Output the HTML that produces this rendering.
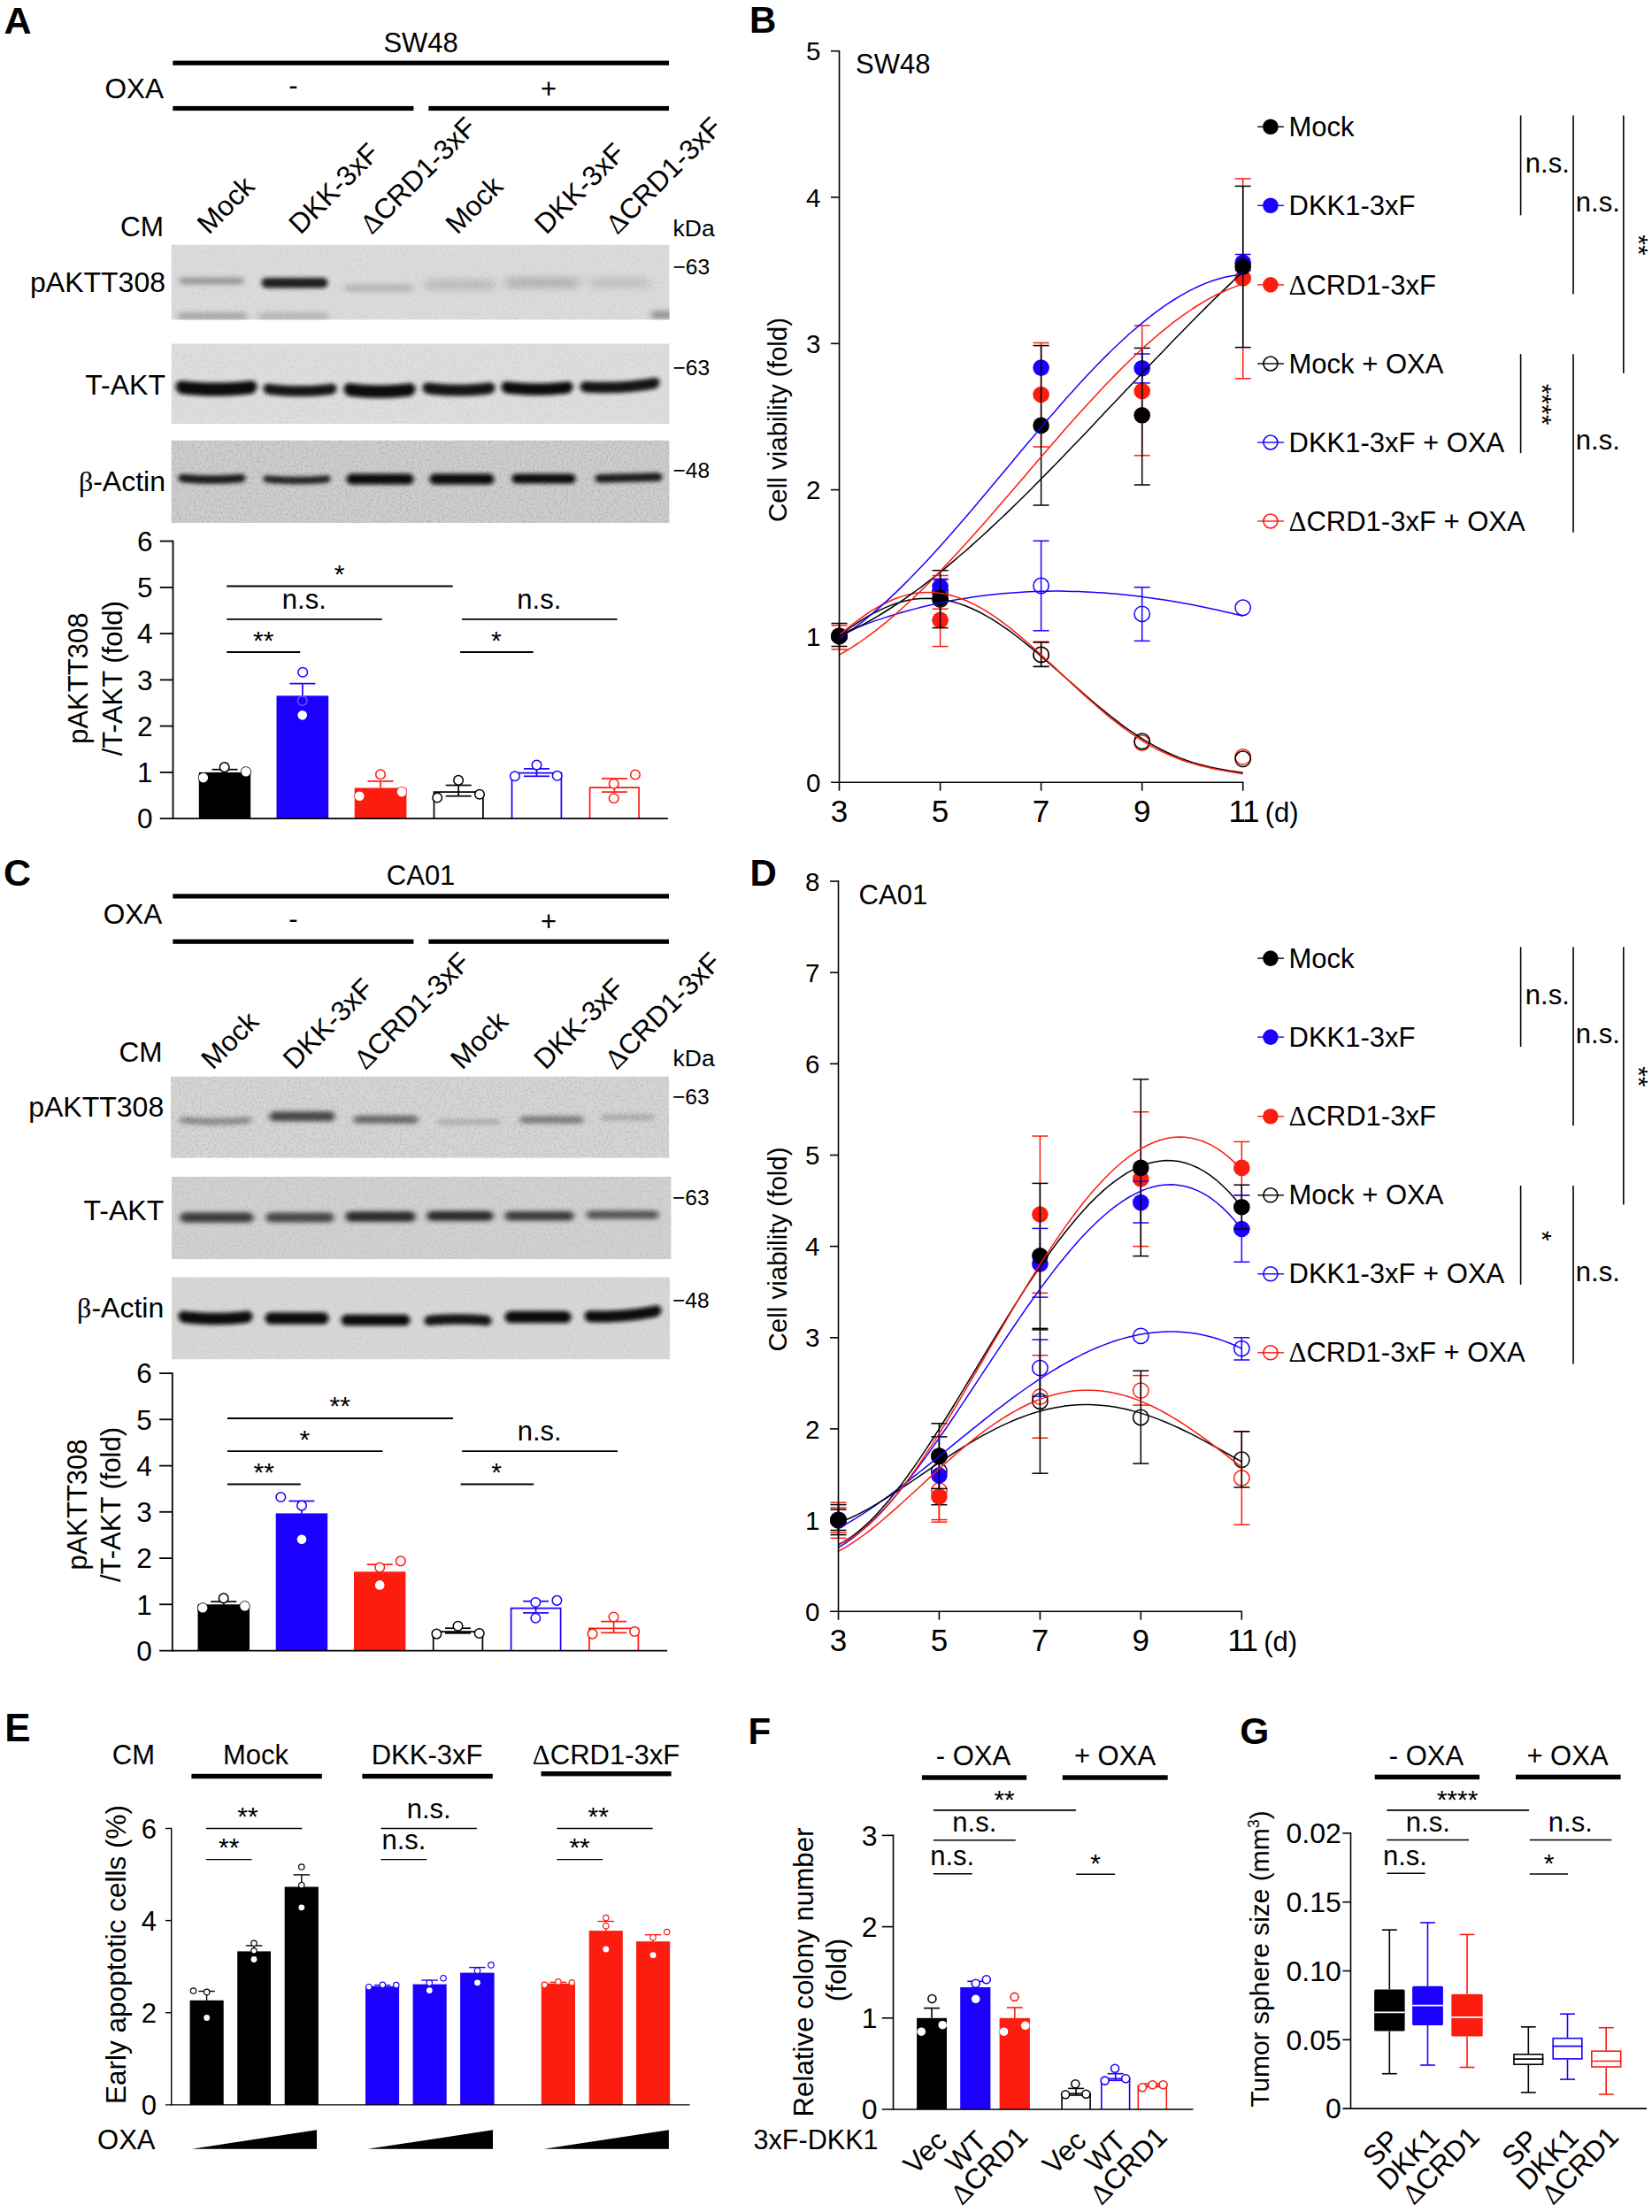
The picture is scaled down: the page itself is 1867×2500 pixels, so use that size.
<!DOCTYPE html>
<html lang="en"><head><meta charset="utf-8"><title>Figure</title>
<style>
html,body{margin:0;padding:0;background:#fff}
body{width:1867px;height:2500px;overflow:hidden}
svg{display:block}
text{font-family:"Liberation Sans",Arial,Helvetica,sans-serif;fill:#000}
.sy{font-family:"Liberation Serif","DejaVu Serif",serif}
</style></head><body>
<svg width="1867" height="2500" viewBox="0 0 1867 2500">
<defs>
<filter id="b1" x="-20%" y="-100%" width="140%" height="300%"><feGaussianBlur stdDeviation="2.8 1.9"/></filter>
<filter id="b2" x="-20%" y="-100%" width="140%" height="300%"><feGaussianBlur stdDeviation="3.2 2.4"/></filter>
<filter id="b3" x="-30%" y="-150%" width="160%" height="400%"><feGaussianBlur stdDeviation="6 4"/></filter>
<filter id="nz" x="0" y="0" width="100%" height="100%"><feTurbulence type="fractalNoise" baseFrequency="0.42" numOctaves="2" seed="3" result="n"/><feColorMatrix type="matrix" values="0 0 0 0 0  0 0 0 0 0  0 0 0 0 0  0.9 0 0 0 -0.38"/></filter>
</defs>
<rect width="1867" height="2500" fill="#fff"/>
<text x="4.6" y="38.1" font-size="43" font-weight="bold">A</text>
<text x="475.6" y="59" font-size="31" text-anchor="middle">SW48</text>
<rect x="195.3" y="68.6" width="560.7" height="5.2" fill="#000"/>
<text x="185" y="110.6" font-size="31.5" text-anchor="end">OXA</text>
<text x="331.5" y="107.1" font-size="31" text-anchor="middle">-</text>
<text x="620" y="110.9" font-size="31" text-anchor="middle">+</text>
<rect x="195.3" y="119.9" width="272.1" height="5.2" fill="#000"/>
<rect x="484.4" y="119.9" width="271.6" height="5.2" fill="#000"/>
<text x="185" y="267" font-size="31.5" text-anchor="end">CM</text>
<text transform="translate(236 266) rotate(-45)" font-size="31.7">Mock</text>
<text transform="translate(339.5 266) rotate(-45)" font-size="31.7">DKK-3xF</text>
<text transform="translate(420 266) rotate(-45)" font-size="31.7"><tspan class="sy">Δ</tspan>CRD1-3xF</text>
<text transform="translate(516.7 266) rotate(-45)" font-size="31.7">Mock</text>
<text transform="translate(617.3 266) rotate(-45)" font-size="31.7">DKK-3xF</text>
<text transform="translate(697.5 266) rotate(-45)" font-size="31.7"><tspan class="sy">Δ</tspan>CRD1-3xF</text>
<text x="760.5" y="267" font-size="26.5">kDa</text>
<text x="187" y="329.8" font-size="32" text-anchor="end">pAKTT308</text>
<text x="187" y="446" font-size="32" text-anchor="end">T-AKT</text>
<text x="187" y="555.4" font-size="32" text-anchor="end"><tspan class="sy">β</tspan>-Actin</text>
<text x="760.5" y="310.3" font-size="24.5">−63</text>
<text x="760.5" y="423.9" font-size="24.5">−63</text>
<text x="760.5" y="540.1" font-size="24.5">−48</text>
<clipPath id="ca1"><rect x="193.5" y="276.4" width="563.1" height="85.2"/></clipPath>
<g clip-path="url(#ca1)">
<rect x="193.5" y="276.4" width="563.1" height="85.2" fill="#dcdcdc"/>
<path d="M202 317.6L204.6 313.8L207.3 313.6L209.9 313.6L212.6 313.6L215.2 313.6L217.9 313.6L220.5 313.6L223.1 313.6L225.8 313.6L228.4 313.6L231.1 313.6L233.7 313.6L236.4 313.6L239 313.6L241.6 313.6L244.3 313.6L246.9 313.6L249.6 313.6L252.2 313.6L254.9 313.6L257.5 313.6L260.1 313.6L262.8 313.6L265.4 313.6L268.1 313.6L270.7 313.6L273.4 313.8L276 317.6L276 317.6L273.4 321.4L270.7 321.6L268.1 321.6L265.4 321.6L262.8 321.6L260.1 321.6L257.5 321.6L254.9 321.6L252.2 321.6L249.6 321.6L246.9 321.6L244.3 321.6L241.6 321.6L239 321.6L236.4 321.6L233.7 321.6L231.1 321.6L228.4 321.6L225.8 321.6L223.1 321.6L220.5 321.6L217.9 321.6L215.2 321.6L212.6 321.6L209.9 321.6L207.3 321.6L204.6 321.4L202 317.6Z" fill="#8c8c8c" filter="url(#b2)" opacity="0.8"/>
<path d="M295 319.7L297.7 314.8L300.4 314L303.1 313.9L305.9 313.9L308.6 313.9L311.3 313.9L314 313.9L316.7 313.9L319.4 313.9L322.1 313.9L324.9 313.9L327.6 313.9L330.3 313.9L333 313.9L335.7 313.9L338.4 313.9L341.1 313.9L343.9 313.9L346.6 313.9L349.3 313.9L352 313.9L354.7 313.9L357.4 313.9L360.1 313.9L362.9 313.9L365.6 314L368.3 314.8L371 319.7L371 319.7L368.3 324.6L365.6 325.4L362.9 325.4L360.1 325.4L357.4 325.4L354.7 325.4L352 325.4L349.3 325.4L346.6 325.4L343.9 325.4L341.1 325.4L338.4 325.4L335.7 325.4L333 325.4L330.3 325.4L327.6 325.4L324.9 325.4L322.1 325.4L319.4 325.4L316.7 325.4L314 325.4L311.3 325.4L308.6 325.4L305.9 325.4L303.1 325.4L300.4 325.4L297.7 324.6L295 319.7Z" fill="#202020" filter="url(#b1)"/>
<path d="M388 325.5L390.8 321.3L393.6 321L396.5 321L399.3 321L402.1 321L404.9 321L407.8 321L410.6 321L413.4 321L416.2 321L419 321L421.9 321L424.7 321L427.5 321L430.3 321L433.1 321L436 321L438.8 321L441.6 321L444.4 321L447.2 321L450.1 321L452.9 321L455.7 321L458.5 321L461.4 321L464.2 321.3L467 325.5L467 325.5L464.2 329.7L461.4 330L458.5 330L455.7 330L452.9 330L450.1 330L447.2 330L444.4 330L441.6 330L438.8 330L436 330L433.1 330L430.3 330L427.5 330L424.7 330L421.9 330L419 330L416.2 330L413.4 330L410.6 330L407.8 330L404.9 330L402.1 330L399.3 330L396.5 330L393.6 330L390.8 329.7L388 325.5Z" fill="#b4b4b4" filter="url(#b2)" opacity="0.8"/>
<path d="M478 322L480.9 317.1L483.9 316.5L486.8 316.5L489.7 316.5L492.6 316.5L495.6 316.5L498.5 316.5L501.4 316.5L504.4 316.5L507.3 316.5L510.2 316.5L513.1 316.5L516.1 316.5L519 316.5L521.9 316.5L524.9 316.5L527.8 316.5L530.7 316.5L533.6 316.5L536.6 316.5L539.5 316.5L542.4 316.5L545.4 316.5L548.3 316.5L551.2 316.5L554.1 316.5L557.1 317.1L560 322L560 322L557.1 326.9L554.1 327.5L551.2 327.5L548.3 327.5L545.4 327.5L542.4 327.5L539.5 327.5L536.6 327.5L533.6 327.5L530.7 327.5L527.8 327.5L524.9 327.5L521.9 327.5L519 327.5L516.1 327.5L513.1 327.5L510.2 327.5L507.3 327.5L504.4 327.5L501.4 327.5L498.5 327.5L495.6 327.5L492.6 327.5L489.7 327.5L486.8 327.5L483.9 327.5L480.9 326.9L478 322Z" fill="#b8b8b8" filter="url(#b3)" opacity="0.9"/>
<path d="M570 319.5L573 314.6L576.1 314L579.1 314L582.1 314L585.2 314L588.2 314L591.2 314L594.3 314L597.3 314L600.4 314L603.4 314L606.4 314L609.5 314L612.5 314L615.5 314L618.6 314L621.6 314L624.6 314L627.7 314L630.7 314L633.8 314L636.8 314L639.8 314L642.9 314L645.9 314L648.9 314L652 314.6L655 319.5L655 319.5L652 324.4L648.9 325L645.9 325L642.9 325L639.8 325L636.8 325L633.8 325L630.7 325L627.7 325L624.6 325L621.6 325L618.6 325L615.5 325L612.5 325L609.5 325L606.4 325L603.4 325L600.4 325L597.3 325L594.3 325L591.2 325L588.2 325L585.2 325L582.1 325L579.1 325L576.1 325L573 324.4L570 319.5Z" fill="#acacac" filter="url(#b3)" opacity="0.9"/>
<path d="M665 319.5L667.5 315.2L670 314.5L672.5 314.5L675 314.5L677.5 314.5L680 314.5L682.5 314.5L685 314.5L687.5 314.5L690 314.5L692.5 314.5L695 314.5L697.5 314.5L700 314.5L702.5 314.5L705 314.5L707.5 314.5L710 314.5L712.5 314.5L715 314.5L717.5 314.5L720 314.5L722.5 314.5L725 314.5L727.5 314.5L730 314.5L732.5 315.2L735 319.5L735 319.5L732.5 323.8L730 324.5L727.5 324.5L725 324.5L722.5 324.5L720 324.5L717.5 324.5L715 324.5L712.5 324.5L710 324.5L707.5 324.5L705 324.5L702.5 324.5L700 324.5L697.5 324.5L695 324.5L692.5 324.5L690 324.5L687.5 324.5L685 324.5L682.5 324.5L680 324.5L677.5 324.5L675 324.5L672.5 324.5L670 324.5L667.5 323.8L665 319.5Z" fill="#b8b8b8" filter="url(#b3)" opacity="0.8"/>
<path d="M200 357.5L202.9 353.3L205.7 353L208.6 353L211.4 353L214.3 353L217.1 353L220 353L222.9 353L225.7 353L228.6 353L231.4 353L234.3 353L237.1 353L240 353L242.9 353L245.7 353L248.6 353L251.4 353L254.3 353L257.1 353L260 353L262.9 353L265.7 353L268.6 353L271.4 353L274.3 353L277.1 353.3L280 357.5L280 357.5L277.1 361.7L274.3 362L271.4 362L268.6 362L265.7 362L262.9 362L260 362L257.1 362L254.3 362L251.4 362L248.6 362L245.7 362L242.9 362L240 362L237.1 362L234.3 362L231.4 362L228.6 362L225.7 362L222.9 362L220 362L217.1 362L214.3 362L211.4 362L208.6 362L205.7 362L202.9 361.7L200 357.5Z" fill="#a0a0a0" filter="url(#b2)" opacity="0.8"/>
<path d="M292 357.5L294.9 353.3L297.7 353L300.6 353L303.4 353L306.3 353L309.1 353L312 353L314.9 353L317.7 353L320.6 353L323.4 353L326.3 353L329.1 353L332 353L334.9 353L337.7 353L340.6 353L343.4 353L346.3 353L349.1 353L352 353L354.9 353L357.7 353L360.6 353L363.4 353L366.3 353L369.1 353.3L372 357.5L372 357.5L369.1 361.7L366.3 362L363.4 362L360.6 362L357.7 362L354.9 362L352 362L349.1 362L346.3 362L343.4 362L340.6 362L337.7 362L334.9 362L332 362L329.1 362L326.3 362L323.4 362L320.6 362L317.7 362L314.9 362L312 362L309.1 362L306.3 362L303.4 362L300.6 362L297.7 362L294.9 361.7L292 357.5Z" fill="#b0b0b0" filter="url(#b2)" opacity="0.8"/>
<path d="M735 356L736.1 352.9L737.1 351.9L738.2 351.3L739.3 351.1L740.4 351L741.4 351L742.5 351L743.6 351L744.6 351L745.7 351L746.8 351L747.9 351L748.9 351L750 351L751.1 351L752.1 351L753.2 351L754.3 351L755.4 351L756.4 351L757.5 351L758.6 351L759.6 351L760.7 351.1L761.8 351.3L762.9 351.9L763.9 352.9L765 356L765 356L763.9 359.1L762.9 360.1L761.8 360.7L760.7 360.9L759.6 361L758.6 361L757.5 361L756.4 361L755.4 361L754.3 361L753.2 361L752.1 361L751.1 361L750 361L748.9 361L747.9 361L746.8 361L745.7 361L744.6 361L743.6 361L742.5 361L741.4 361L740.4 361L739.3 360.9L738.2 360.7L737.1 360.1L736.1 359.1L735 356Z" fill="#909090" filter="url(#b2)" opacity="0.8"/>
<rect x="193.5" y="276.4" width="563.1" height="85.2" filter="url(#nz)" opacity="0.15"/>
</g>
<clipPath id="ca2"><rect x="193.5" y="388.3" width="563.1" height="91"/></clipPath>
<g clip-path="url(#ca2)">
<rect x="193.5" y="388.3" width="563.1" height="91" fill="#dedede"/>
<path d="M198 436.9L201.3 431.1L204.6 430.3L208 430.6L211.3 431L214.6 431.3L217.9 431.6L221.2 431.8L224.6 432L227.9 432.2L231.2 432.3L234.5 432.5L237.9 432.5L241.2 432.6L244.5 432.6L247.8 432.6L251.1 432.5L254.5 432.5L257.8 432.3L261.1 432.2L264.4 432L267.8 431.8L271.1 431.6L274.4 431.3L277.7 431L281 430.6L284.4 430.3L287.7 431.1L291 436.9L291 436.9L287.7 443.6L284.4 445.2L281 445.6L277.7 446L274.4 446.3L271.1 446.6L267.8 446.8L264.4 447L261.1 447.2L257.8 447.3L254.5 447.5L251.1 447.5L247.8 447.6L244.5 447.6L241.2 447.6L237.9 447.5L234.5 447.5L231.2 447.3L227.9 447.2L224.6 447L221.2 446.8L217.9 446.6L214.6 446.3L211.3 446L208 445.6L204.6 445.2L201.3 443.6L198 436.9Z" fill="#0c0c0c" filter="url(#b1)"/>
<path d="M297 438.9L300 434.1L303 433.7L306 434.1L309 434.5L312 434.8L315 435.1L318 435.3L321 435.5L324 435.7L327 435.8L330 436L333 436L336 436.1L339 436.1L342 436.1L345 436L348 436L351 435.8L354 435.7L357 435.5L360 435.3L363 435.1L366 434.8L369 434.5L372 434.1L375 433.7L378 434.1L381 438.9L381 438.9L378 444.5L375 445.7L372 446.1L369 446.5L366 446.8L363 447.1L360 447.3L357 447.5L354 447.7L351 447.8L348 448L345 448L342 448.1L339 448.1L336 448.1L333 448L330 448L327 447.8L324 447.7L321 447.5L318 447.3L315 447.1L312 446.8L309 446.5L306 446.1L303 445.7L300 444.5L297 438.9Z" fill="#181818" filter="url(#b1)"/>
<path d="M388 439.4L390.9 434L393.9 433.1L396.8 433.4L399.7 433.7L402.6 434L405.6 434.3L408.5 434.6L411.4 434.8L414.4 434.9L417.3 435.1L420.2 435.2L423.1 435.3L426.1 435.3L429 435.4L431.9 435.3L434.9 435.3L437.8 435.2L440.7 435.1L443.6 434.9L446.6 434.8L449.5 434.6L452.4 434.3L455.4 434L458.3 433.7L461.2 433.4L464.1 433.1L467.1 434L470 439.4L470 439.4L467.1 445.7L464.1 447.4L461.2 447.9L458.3 448.2L455.4 448.5L452.4 448.8L449.5 449.1L446.6 449.3L443.6 449.4L440.7 449.6L437.8 449.7L434.9 449.8L431.9 449.8L429 449.9L426.1 449.8L423.1 449.8L420.2 449.7L417.3 449.6L414.4 449.4L411.4 449.3L408.5 449.1L405.6 448.8L402.6 448.5L399.7 448.2L396.8 447.9L393.9 447.4L390.9 445.7L388 439.4Z" fill="#0c0c0c" filter="url(#b1)"/>
<path d="M477 437.9L480 432.9L482.9 432.3L485.9 432.6L488.9 433L491.8 433.3L494.8 433.6L497.8 433.8L500.7 434L503.7 434.2L506.6 434.3L509.6 434.5L512.6 434.5L515.5 434.6L518.5 434.6L521.5 434.6L524.4 434.5L527.4 434.5L530.4 434.3L533.3 434.2L536.3 434L539.2 433.8L542.2 433.6L545.2 433.3L548.1 433L551.1 432.6L554.1 432.3L557 432.9L560 437.9L560 437.9L557 443.8L554.1 445.2L551.1 445.6L548.1 446L545.2 446.3L542.2 446.6L539.2 446.8L536.3 447L533.3 447.2L530.4 447.3L527.4 447.5L524.4 447.5L521.5 447.6L518.5 447.6L515.5 447.6L512.6 447.5L509.6 447.5L506.6 447.3L503.7 447.2L500.7 447L497.8 446.8L494.8 446.6L491.8 446.3L488.9 446L485.9 445.6L482.9 445.2L480 443.8L477 437.9Z" fill="#141414" filter="url(#b1)"/>
<path d="M566 436.9L568.9 431.8L571.9 431.1L574.8 431.4L577.7 431.7L580.6 432L583.6 432.3L586.5 432.6L589.4 432.8L592.4 432.9L595.3 433.1L598.2 433.2L601.1 433.3L604.1 433.3L607 433.4L609.9 433.3L612.9 433.3L615.8 433.2L618.7 433.1L621.6 432.9L624.6 432.8L627.5 432.6L630.4 432.3L633.4 432L636.3 431.7L639.2 431.4L642.1 431.1L645.1 431.8L648 436.9L648 436.9L645.1 442.9L642.1 444.4L639.2 444.9L636.3 445.2L633.4 445.5L630.4 445.8L627.5 446.1L624.6 446.3L621.6 446.4L618.7 446.6L615.8 446.7L612.9 446.8L609.9 446.8L607 446.9L604.1 446.8L601.1 446.8L598.2 446.7L595.3 446.6L592.4 446.4L589.4 446.3L586.5 446.1L583.6 445.8L580.6 445.5L577.7 445.2L574.8 444.9L571.9 444.4L568.9 442.9L566 436.9Z" fill="#101010" filter="url(#b1)"/>
<path d="M655 436.9L658.2 431.7L661.5 431.1L664.8 431.3L668 431.5L671.2 431.6L674.5 431.7L677.8 431.8L681 431.8L684.2 431.8L687.5 431.8L690.8 431.7L694 431.6L697.2 431.5L700.5 431.4L703.8 431.2L707 430.9L710.2 430.7L713.5 430.4L716.8 430L720 429.7L723.2 429.3L726.5 428.9L729.8 428.4L733 427.9L736.2 427.4L739.5 426.9L742.8 427L746 431.9L746 431.9L742.8 438L739.5 439.4L736.2 439.9L733 440.4L729.8 440.9L726.5 441.4L723.2 441.8L720 442.2L716.8 442.5L713.5 442.9L710.2 443.2L707 443.4L703.8 443.7L700.5 443.9L697.2 444L694 444.1L690.8 444.2L687.5 444.3L684.2 444.3L681 444.3L677.8 444.3L674.5 444.2L671.2 444.1L668 444L664.8 443.8L661.5 443.6L658.2 442.6L655 436.9Z" fill="#141414" filter="url(#b1)"/>
<rect x="193.5" y="388.3" width="563.1" height="91" filter="url(#nz)" opacity="0.15"/>
</g>
<clipPath id="ca3"><rect x="193.5" y="497.6" width="563.1" height="93.4"/></clipPath>
<g clip-path="url(#ca3)">
<rect x="193.5" y="497.6" width="563.1" height="93.4" fill="#cecece"/>
<path d="M201 540L203.8 536L206.5 535.8L209.2 536L212 536.2L214.8 536.4L217.5 536.6L220.2 536.8L223 536.9L225.8 537L228.5 537.1L231.2 537.2L234 537.2L236.8 537.2L239.5 537.2L242.2 537.2L245 537.2L247.8 537.2L250.5 537.1L253.2 537L256 536.9L258.8 536.8L261.5 536.6L264.2 536.4L267 536.2L269.8 536L272.5 535.8L275.2 536L278 540L278 540L275.2 544.6L272.5 545.3L269.8 545.5L267 545.7L264.2 545.9L261.5 546.1L258.8 546.2L256 546.4L253.2 546.5L250.5 546.6L247.8 546.7L245 546.7L242.2 546.7L239.5 546.8L236.8 546.7L234 546.7L231.2 546.7L228.5 546.6L225.8 546.5L223 546.4L220.2 546.2L217.5 546.1L214.8 545.9L212 545.7L209.2 545.5L206.5 545.3L203.8 544.6L201 540Z" fill="#1c1c1c" filter="url(#b1)"/>
<path d="M297 541L299.8 537.3L302.5 537.3L305.2 537.5L308 537.7L310.8 537.9L313.5 538.1L316.2 538.2L319 538.4L321.8 538.5L324.5 538.6L327.2 538.7L330 538.7L332.8 538.7L335.5 538.8L338.2 538.7L341 538.7L343.8 538.7L346.5 538.6L349.2 538.5L352 538.4L354.8 538.2L357.5 538.1L360.2 537.9L363 537.7L365.8 537.5L368.5 537.3L371.2 537.3L374 541L374 541L371.2 545.3L368.5 545.8L365.8 546L363 546.2L360.2 546.4L357.5 546.6L354.8 546.8L352 546.9L349.2 547L346.5 547.1L343.8 547.2L341 547.2L338.2 547.2L335.5 547.2L332.8 547.2L330 547.2L327.2 547.2L324.5 547.1L321.8 547L319 546.9L316.2 546.8L313.5 546.6L310.8 546.4L308 546.2L305.2 546L302.5 545.8L299.8 545.3L297 541Z" fill="#282828" filter="url(#b1)"/>
<path d="M391 541.6L393.8 536.6L396.5 535.6L399.2 535.6L402 535.6L404.8 535.6L407.5 535.6L410.2 535.6L413 535.6L415.8 535.6L418.5 535.6L421.2 535.6L424 535.6L426.8 535.6L429.5 535.6L432.2 535.6L435 535.6L437.8 535.6L440.5 535.6L443.2 535.6L446 535.6L448.8 535.6L451.5 535.6L454.2 535.6L457 535.6L459.8 535.6L462.5 535.6L465.2 536.6L468 541.6L468 541.6L465.2 546.6L462.5 547.6L459.8 547.6L457 547.6L454.2 547.6L451.5 547.6L448.8 547.6L446 547.6L443.2 547.6L440.5 547.6L437.8 547.6L435 547.6L432.2 547.6L429.5 547.6L426.8 547.6L424 547.6L421.2 547.6L418.5 547.6L415.8 547.6L413 547.6L410.2 547.6L407.5 547.6L404.8 547.6L402 547.6L399.2 547.6L396.5 547.6L393.8 546.6L391 541.6Z" fill="#0c0c0c" filter="url(#b1)"/>
<path d="M485 541.6L487.6 536.6L490.3 535.6L492.9 535.6L495.6 535.6L498.2 535.6L500.9 535.6L503.5 535.6L506.1 535.6L508.8 535.6L511.4 535.6L514.1 535.6L516.7 535.6L519.4 535.6L522 535.6L524.6 535.6L527.3 535.6L529.9 535.6L532.6 535.6L535.2 535.6L537.9 535.6L540.5 535.6L543.1 535.6L545.8 535.6L548.4 535.6L551.1 535.6L553.7 535.6L556.4 536.6L559 541.6L559 541.6L556.4 546.6L553.7 547.6L551.1 547.6L548.4 547.6L545.8 547.6L543.1 547.6L540.5 547.6L537.9 547.6L535.2 547.6L532.6 547.6L529.9 547.6L527.3 547.6L524.6 547.6L522 547.6L519.4 547.6L516.7 547.6L514.1 547.6L511.4 547.6L508.8 547.6L506.1 547.6L503.5 547.6L500.9 547.6L498.2 547.6L495.6 547.6L492.9 547.6L490.3 547.6L487.6 546.6L485 541.6Z" fill="#0c0c0c" filter="url(#b1)"/>
<path d="M578 541L580.6 536.3L583.2 535.5L585.8 535.5L588.4 535.5L591 535.5L593.6 535.5L596.2 535.5L598.9 535.5L601.5 535.5L604.1 535.5L606.7 535.5L609.3 535.5L611.9 535.5L614.5 535.5L617.1 535.5L619.7 535.5L622.3 535.5L624.9 535.5L627.5 535.5L630.1 535.5L632.8 535.5L635.4 535.5L638 535.5L640.6 535.5L643.2 535.5L645.8 535.5L648.4 536.3L651 541L651 541L648.4 545.7L645.8 546.5L643.2 546.5L640.6 546.5L638 546.5L635.4 546.5L632.8 546.5L630.1 546.5L627.5 546.5L624.9 546.5L622.3 546.5L619.7 546.5L617.1 546.5L614.5 546.5L611.9 546.5L609.3 546.5L606.7 546.5L604.1 546.5L601.5 546.5L598.9 546.5L596.2 546.5L593.6 546.5L591 546.5L588.4 546.5L585.8 546.5L583.2 546.5L580.6 545.7L578 541Z" fill="#0e0e0e" filter="url(#b1)"/>
<path d="M672 541L674.8 536.6L677.5 536.1L680.2 536L683 536L685.8 535.9L688.5 535.8L691.2 535.8L694 535.7L696.8 535.6L699.5 535.5L702.2 535.5L705 535.4L707.8 535.3L710.5 535.2L713.2 535.2L716 535.1L718.8 535L721.5 535L724.2 534.9L727 534.8L729.8 534.8L732.5 534.7L735.2 534.6L738 534.5L740.8 534.5L743.5 534.4L746.2 534.8L749 539L749 539L746.2 543.4L743.5 543.9L740.8 544L738 544L735.2 544.1L732.5 544.2L729.8 544.2L727 544.3L724.2 544.4L721.5 544.5L718.8 544.5L716 544.6L713.2 544.7L710.5 544.8L707.8 544.8L705 544.9L702.2 545L699.5 545L696.8 545.1L694 545.2L691.2 545.2L688.5 545.3L685.8 545.4L683 545.5L680.2 545.5L677.5 545.6L674.8 545.2L672 541Z" fill="#1c1c1c" filter="url(#b1)"/>
<rect x="193.5" y="497.6" width="563.1" height="93.4" filter="url(#nz)" opacity="0.32"/>
</g>
<rect x="224.8" y="872.9" width="58.4" height="52.2" fill="#000"/>
<line x1="254" y1="869.7" x2="254" y2="872.9" stroke="#000" stroke-width="1.7"/>
<line x1="239.5" y1="869.7" x2="268.5" y2="869.7" stroke="#000" stroke-width="1.7"/>
<circle cx="253.7" cy="867.1" r="5.3" fill="#fff" stroke="#000" stroke-width="1.5"/>
<circle cx="229.8" cy="879.1" r="5.3" fill="#fff" stroke="#000" stroke-width="1.5"/>
<circle cx="229.8" cy="879.1" r="5.3" fill="#fff"/>
<circle cx="277.9" cy="872.2" r="5.3" fill="#fff" stroke="#000" stroke-width="1.5"/>
<circle cx="277.9" cy="872.2" r="5.3" fill="#fff"/>
<rect x="312.5" y="786.3" width="58.7" height="138.8" fill="#1b00ff"/>
<line x1="341.9" y1="772.6" x2="341.9" y2="786.3" stroke="#1b00ff" stroke-width="1.7"/>
<line x1="327.4" y1="772.6" x2="356.4" y2="772.6" stroke="#1b00ff" stroke-width="1.7"/>
<circle cx="342.2" cy="759.8" r="5.3" fill="#fff" stroke="#1b00ff" stroke-width="1.5"/>
<circle cx="341.7" cy="792.1" r="5.3" fill="none" stroke="#6a5cff" stroke-width="1.4"/>
<circle cx="341.7" cy="808.2" r="5.3" fill="#fff" stroke="#1b00ff" stroke-width="1.5"/>
<circle cx="341.7" cy="808.2" r="5.3" fill="#fff"/>
<rect x="400.7" y="890.5" width="58.7" height="34.6" fill="#fc1c10"/>
<line x1="430" y1="882.9" x2="430" y2="890.5" stroke="#fc1c10" stroke-width="1.7"/>
<line x1="415.5" y1="882.9" x2="444.5" y2="882.9" stroke="#fc1c10" stroke-width="1.7"/>
<circle cx="430" cy="875.3" r="5.3" fill="#fff" stroke="#fc1c10" stroke-width="1.5"/>
<circle cx="406.3" cy="899.7" r="5.3" fill="#fff" stroke="#fc1c10" stroke-width="1.5"/>
<circle cx="406.3" cy="899.7" r="5.3" fill="#fff"/>
<circle cx="454.1" cy="895.1" r="5.3" fill="#fff" stroke="#fc1c10" stroke-width="1.5"/>
<circle cx="454.1" cy="895.1" r="5.3" fill="#fff"/>
<path d="M490.5 925.1V895.2H545.9V925.1" fill="none" stroke="#000" stroke-width="1.7"/>
<line x1="518.2" y1="887.5" x2="518.2" y2="899.7" stroke="#000" stroke-width="1.7"/>
<line x1="503.7" y1="887.5" x2="532.7" y2="887.5" stroke="#000" stroke-width="1.7"/>
<line x1="503.7" y1="899.7" x2="532.7" y2="899.7" stroke="#000" stroke-width="1.7"/>
<circle cx="518.1" cy="881.9" r="5.3" fill="#fff" stroke="#000" stroke-width="1.5"/>
<circle cx="494.2" cy="901.5" r="5.3" fill="#fff" stroke="#000" stroke-width="1.5"/>
<circle cx="542" cy="897.7" r="5.3" fill="#fff" stroke="#000" stroke-width="1.5"/>
<path d="M578.5 925.1V873.7H634.4V925.1" fill="none" stroke="#1b00ff" stroke-width="1.7"/>
<line x1="606.5" y1="868.9" x2="606.5" y2="877.3" stroke="#1b00ff" stroke-width="1.7"/>
<line x1="592" y1="868.9" x2="621" y2="868.9" stroke="#1b00ff" stroke-width="1.7"/>
<line x1="592" y1="877.3" x2="621" y2="877.3" stroke="#1b00ff" stroke-width="1.7"/>
<circle cx="606.5" cy="864.6" r="5.3" fill="#fff" stroke="#1b00ff" stroke-width="1.5"/>
<circle cx="581.9" cy="877.3" r="5.3" fill="#fff" stroke="#1b00ff" stroke-width="1.5"/>
<circle cx="629.7" cy="876.8" r="5.3" fill="#fff" stroke="#1b00ff" stroke-width="1.5"/>
<path d="M666.6 925.1V890.2H722.1V925.1" fill="none" stroke="#fc1c10" stroke-width="1.7"/>
<line x1="694.4" y1="879.9" x2="694.4" y2="895.1" stroke="#fc1c10" stroke-width="1.7"/>
<line x1="679.9" y1="879.9" x2="708.9" y2="879.9" stroke="#fc1c10" stroke-width="1.7"/>
<line x1="679.9" y1="895.1" x2="708.9" y2="895.1" stroke="#fc1c10" stroke-width="1.7"/>
<circle cx="717.9" cy="875.5" r="5.3" fill="#fff" stroke="#fc1c10" stroke-width="1.5"/>
<circle cx="693.7" cy="885.7" r="5.3" fill="#fff" stroke="#fc1c10" stroke-width="1.5"/>
<circle cx="693.7" cy="902.2" r="5.3" fill="#fff" stroke="#fc1c10" stroke-width="1.5"/>
<line x1="195.5" y1="610.7" x2="195.5" y2="926" stroke="#000" stroke-width="1.8"/>
<line x1="180.8" y1="925.1" x2="754.8" y2="925.1" stroke="#000" stroke-width="1.8"/>
<text x="172.5" y="936.3" font-size="31.5" text-anchor="end">0</text>
<line x1="180.8" y1="872.9" x2="195.5" y2="872.9" stroke="#000" stroke-width="1.8"/>
<text x="172.5" y="884.1" font-size="31.5" text-anchor="end">1</text>
<line x1="180.8" y1="820.6" x2="195.5" y2="820.6" stroke="#000" stroke-width="1.8"/>
<text x="172.5" y="831.8" font-size="31.5" text-anchor="end">2</text>
<line x1="180.8" y1="768.4" x2="195.5" y2="768.4" stroke="#000" stroke-width="1.8"/>
<text x="172.5" y="779.6" font-size="31.5" text-anchor="end">3</text>
<line x1="180.8" y1="716.1" x2="195.5" y2="716.1" stroke="#000" stroke-width="1.8"/>
<text x="172.5" y="727.3" font-size="31.5" text-anchor="end">4</text>
<line x1="180.8" y1="663.9" x2="195.5" y2="663.9" stroke="#000" stroke-width="1.8"/>
<text x="172.5" y="675.1" font-size="31.5" text-anchor="end">5</text>
<line x1="180.8" y1="611.6" x2="195.5" y2="611.6" stroke="#000" stroke-width="1.8"/>
<text x="172.5" y="622.8" font-size="31.5" text-anchor="end">6</text>
<line x1="256.3" y1="662.5" x2="511.7" y2="662.5" stroke="#000" stroke-width="1.8"/>
<text x="383.5" y="659.3" font-size="30" text-anchor="middle">*</text>
<line x1="256.3" y1="699.8" x2="431.7" y2="699.8" stroke="#000" stroke-width="1.8"/>
<text x="343.8" y="687.9" font-size="31" text-anchor="middle">n.s.</text>
<line x1="256.3" y1="737" x2="339.2" y2="737" stroke="#000" stroke-width="1.8"/>
<text x="297.7" y="733.8" font-size="30" text-anchor="middle">**</text>
<line x1="521.9" y1="699.8" x2="697.6" y2="699.8" stroke="#000" stroke-width="1.8"/>
<text x="609.3" y="687.9" font-size="31" text-anchor="middle">n.s.</text>
<line x1="520.1" y1="737" x2="602.7" y2="737" stroke="#000" stroke-width="1.8"/>
<text x="560.8" y="733.8" font-size="30" text-anchor="middle">*</text>
<text transform="translate(99.4 766.7) rotate(-90)" font-size="31" text-anchor="middle">pAKTT308</text>
<text transform="translate(137.6 766.7) rotate(-90)" font-size="31" text-anchor="middle">/T-AKT (fold)</text>
<text x="4" y="1000.7" font-size="43" font-weight="bold">C</text>
<text x="475.6" y="999.9" font-size="31" text-anchor="middle">CA01</text>
<rect x="195.3" y="1010.3" width="560.7" height="5.2" fill="#000"/>
<text x="183.3" y="1043.9" font-size="31.5" text-anchor="end">OXA</text>
<text x="331.5" y="1048.5" font-size="31" text-anchor="middle">-</text>
<text x="620" y="1052.3" font-size="31" text-anchor="middle">+</text>
<rect x="195.3" y="1061.6" width="272.1" height="5.2" fill="#000"/>
<rect x="484.4" y="1061.6" width="271.6" height="5.2" fill="#000"/>
<text x="183.6" y="1199.8" font-size="31.5" text-anchor="end">CM</text>
<text transform="translate(240.6 1210) rotate(-45)" font-size="31.7">Mock</text>
<text transform="translate(333.1 1210) rotate(-45)" font-size="31.7">DKK-3xF</text>
<text transform="translate(413 1210) rotate(-45)" font-size="31.7"><tspan class="sy">Δ</tspan>CRD1-3xF</text>
<text transform="translate(522.3 1210) rotate(-45)" font-size="31.7">Mock</text>
<text transform="translate(616.6 1210) rotate(-45)" font-size="31.7">DKK-3xF</text>
<text transform="translate(696.5 1210) rotate(-45)" font-size="31.7"><tspan class="sy">Δ</tspan>CRD1-3xF</text>
<text x="760.5" y="1204.6" font-size="26.5">kDa</text>
<text x="185.2" y="1262.3" font-size="32" text-anchor="end">pAKTT308</text>
<text x="185.2" y="1378.7" font-size="32" text-anchor="end">T-AKT</text>
<text x="185.2" y="1488.6" font-size="32" text-anchor="end"><tspan class="sy">β</tspan>-Actin</text>
<text x="760" y="1247.8" font-size="24.5">−63</text>
<text x="760" y="1362" font-size="24.5">−63</text>
<text x="760" y="1477.9" font-size="24.5">−48</text>
<clipPath id="cc1"><rect x="193" y="1216.5" width="563" height="92.3"/></clipPath>
<g clip-path="url(#cc1)">
<rect x="193" y="1216.5" width="563" height="92.3" fill="#d6d6d6"/>
<path d="M202 1265.6L205 1262L207.9 1262.1L210.9 1262.4L213.9 1262.6L216.8 1262.8L219.8 1262.9L222.8 1263.1L225.7 1263.2L228.7 1263.3L231.6 1263.4L234.6 1263.5L237.6 1263.6L240.5 1263.6L243.5 1263.6L246.5 1263.6L249.4 1263.6L252.4 1263.5L255.4 1263.4L258.3 1263.3L261.3 1263.2L264.2 1263.1L267.2 1262.9L270.2 1262.8L273.1 1262.6L276.1 1262.4L279.1 1262.1L282 1262L285 1265.6L285 1265.6L282 1269.7L279.1 1270.1L276.1 1270.4L273.1 1270.6L270.2 1270.8L267.2 1270.9L264.2 1271.1L261.3 1271.2L258.3 1271.3L255.4 1271.4L252.4 1271.5L249.4 1271.6L246.5 1271.6L243.5 1271.6L240.5 1271.6L237.6 1271.6L234.6 1271.5L231.6 1271.4L228.7 1271.3L225.7 1271.2L222.8 1271.1L219.8 1270.9L216.8 1270.8L213.9 1270.6L210.9 1270.4L207.9 1270.1L205 1269.7L202 1265.6Z" fill="#8e8e8e" filter="url(#b2)"/>
<path d="M304 1261.8L306.7 1257.1L309.4 1256.3L312 1256.3L314.7 1256.3L317.4 1256.3L320.1 1256.3L322.8 1256.3L325.4 1256.3L328.1 1256.3L330.8 1256.3L333.5 1256.3L336.1 1256.3L338.8 1256.3L341.5 1256.3L344.2 1256.3L346.9 1256.3L349.5 1256.3L352.2 1256.3L354.9 1256.3L357.6 1256.3L360.2 1256.3L362.9 1256.3L365.6 1256.3L368.3 1256.3L371 1256.3L373.6 1256.3L376.3 1257.1L379 1261.8L379 1261.8L376.3 1266.5L373.6 1267.3L371 1267.3L368.3 1267.3L365.6 1267.3L362.9 1267.3L360.2 1267.3L357.6 1267.3L354.9 1267.3L352.2 1267.3L349.5 1267.3L346.9 1267.3L344.2 1267.3L341.5 1267.3L338.8 1267.3L336.1 1267.3L333.5 1267.3L330.8 1267.3L328.1 1267.3L325.4 1267.3L322.8 1267.3L320.1 1267.3L317.4 1267.3L314.7 1267.3L312 1267.3L309.4 1267.3L306.7 1266.5L304 1261.8Z" fill="#484848" filter="url(#b2)"/>
<path d="M399 1265.3L401.6 1261.2L404.3 1260.8L406.9 1260.8L409.6 1260.8L412.2 1260.8L414.9 1260.8L417.5 1260.8L420.1 1260.8L422.8 1260.8L425.4 1260.8L428.1 1260.8L430.7 1260.8L433.4 1260.8L436 1260.8L438.6 1260.8L441.3 1260.8L443.9 1260.8L446.6 1260.8L449.2 1260.8L451.9 1260.8L454.5 1260.8L457.1 1260.8L459.8 1260.8L462.4 1260.8L465.1 1260.8L467.7 1260.8L470.4 1261.2L473 1265.3L473 1265.3L470.4 1269.4L467.7 1269.8L465.1 1269.8L462.4 1269.8L459.8 1269.8L457.1 1269.8L454.5 1269.8L451.9 1269.8L449.2 1269.8L446.6 1269.8L443.9 1269.8L441.3 1269.8L438.6 1269.8L436 1269.8L433.4 1269.8L430.7 1269.8L428.1 1269.8L425.4 1269.8L422.8 1269.8L420.1 1269.8L417.5 1269.8L414.9 1269.8L412.2 1269.8L409.6 1269.8L406.9 1269.8L404.3 1269.8L401.6 1269.4L399 1265.3Z" fill="#6c6c6c" filter="url(#b2)"/>
<path d="M493 1268.1L495.6 1265.1L498.2 1265.1L500.8 1265.1L503.4 1265.1L506 1265.1L508.6 1265.1L511.2 1265.1L513.9 1265.1L516.5 1265.1L519.1 1265.1L521.7 1265.1L524.3 1265.1L526.9 1265.1L529.5 1265.1L532.1 1265.1L534.7 1265.1L537.3 1265.1L539.9 1265.1L542.5 1265.1L545.1 1265.1L547.8 1265.1L550.4 1265.1L553 1265.1L555.6 1265.1L558.2 1265.1L560.8 1265.1L563.4 1265.1L566 1268.1L566 1268.1L563.4 1271.1L560.8 1271.1L558.2 1271.1L555.6 1271.1L553 1271.1L550.4 1271.1L547.8 1271.1L545.1 1271.1L542.5 1271.1L539.9 1271.1L537.3 1271.1L534.7 1271.1L532.1 1271.1L529.5 1271.1L526.9 1271.1L524.3 1271.1L521.7 1271.1L519.1 1271.1L516.5 1271.1L513.9 1271.1L511.2 1271.1L508.6 1271.1L506 1271.1L503.4 1271.1L500.8 1271.1L498.2 1271.1L495.6 1271.1L493 1268.1Z" fill="#b0b0b0" filter="url(#b2)"/>
<path d="M587 1265.6L589.6 1261.7L592.2 1261.3L594.8 1261.3L597.4 1261.3L600 1261.3L602.6 1261.3L605.2 1261.3L607.9 1261.3L610.5 1261.3L613.1 1261.3L615.7 1261.3L618.3 1261.3L620.9 1261.3L623.5 1261.3L626.1 1261.3L628.7 1261.3L631.3 1261.3L633.9 1261.3L636.5 1261.3L639.1 1261.3L641.8 1261.3L644.4 1261.3L647 1261.3L649.6 1261.3L652.2 1261.3L654.8 1261.3L657.4 1261.7L660 1265.6L660 1265.6L657.4 1269.5L654.8 1269.8L652.2 1269.8L649.6 1269.8L647 1269.8L644.4 1269.8L641.8 1269.8L639.1 1269.8L636.5 1269.8L633.9 1269.8L631.3 1269.8L628.7 1269.8L626.1 1269.8L623.5 1269.8L620.9 1269.8L618.3 1269.8L615.7 1269.8L613.1 1269.8L610.5 1269.8L607.9 1269.8L605.2 1269.8L602.6 1269.8L600 1269.8L597.4 1269.8L594.8 1269.8L592.2 1269.8L589.6 1269.5L587 1265.6Z" fill="#808080" filter="url(#b2)"/>
<path d="M679 1262.8L681.2 1259.7L683.4 1259.5L685.5 1259.5L687.7 1259.5L689.9 1259.5L692.1 1259.5L694.2 1259.5L696.4 1259.5L698.6 1259.5L700.8 1259.5L703 1259.5L705.1 1259.5L707.3 1259.5L709.5 1259.5L711.7 1259.5L713.9 1259.5L716 1259.5L718.2 1259.5L720.4 1259.5L722.6 1259.5L724.8 1259.5L726.9 1259.5L729.1 1259.5L731.3 1259.5L733.5 1259.5L735.6 1259.5L737.8 1259.7L740 1262.8L740 1262.8L737.8 1265.9L735.6 1266L733.5 1266L731.3 1266L729.1 1266L726.9 1266L724.8 1266L722.6 1266L720.4 1266L718.2 1266L716 1266L713.9 1266L711.7 1266L709.5 1266L707.3 1266L705.1 1266L703 1266L700.8 1266L698.6 1266L696.4 1266L694.2 1266L692.1 1266L689.9 1266L687.7 1266L685.5 1266L683.4 1266L681.2 1265.9L679 1262.8Z" fill="#acacac" filter="url(#b2)"/>
<rect x="193" y="1216.5" width="563" height="92.3" filter="url(#nz)" opacity="0.28"/>
</g>
<clipPath id="cc2"><rect x="194" y="1329.7" width="564.6" height="93.5"/></clipPath>
<g clip-path="url(#cc2)">
<rect x="194" y="1329.7" width="564.6" height="93.5" fill="#d2d2d2"/>
<path d="M203 1376L206 1371L209 1370.2L212 1370.2L215 1370.2L218 1370.2L221 1370.2L224 1370.2L227 1370.2L230 1370.2L233 1370.2L236 1370.2L239 1370.2L242 1370.2L245 1370.2L248 1370.2L251 1370.2L254 1370.2L257 1370.2L260 1370.2L263 1370.2L266 1370.2L269 1370.2L272 1370.2L275 1370.2L278 1370.2L281 1370.2L284 1371L287 1376L287 1376L284 1381L281 1381.8L278 1381.8L275 1381.8L272 1381.8L269 1381.8L266 1381.8L263 1381.8L260 1381.8L257 1381.8L254 1381.8L251 1381.8L248 1381.8L245 1381.8L242 1381.8L239 1381.8L236 1381.8L233 1381.8L230 1381.8L227 1381.8L224 1381.8L221 1381.8L218 1381.8L215 1381.8L212 1381.8L209 1381.8L206 1381L203 1376Z" fill="#3c3c3c" filter="url(#b2)"/>
<path d="M300 1376L302.8 1371.2L305.6 1370.5L308.4 1370.5L311.1 1370.5L313.9 1370.5L316.7 1370.5L319.5 1370.5L322.3 1370.5L325.1 1370.5L327.9 1370.5L330.6 1370.5L333.4 1370.5L336.2 1370.5L339 1370.5L341.8 1370.5L344.6 1370.5L347.4 1370.5L350.1 1370.5L352.9 1370.5L355.7 1370.5L358.5 1370.5L361.3 1370.5L364.1 1370.5L366.9 1370.5L369.6 1370.5L372.4 1370.5L375.2 1371.2L378 1376L378 1376L375.2 1380.8L372.4 1381.5L369.6 1381.5L366.9 1381.5L364.1 1381.5L361.3 1381.5L358.5 1381.5L355.7 1381.5L352.9 1381.5L350.1 1381.5L347.4 1381.5L344.6 1381.5L341.8 1381.5L339 1381.5L336.2 1381.5L333.4 1381.5L330.6 1381.5L327.9 1381.5L325.1 1381.5L322.3 1381.5L319.5 1381.5L316.7 1381.5L313.9 1381.5L311.1 1381.5L308.4 1381.5L305.6 1381.5L302.8 1380.8L300 1376Z" fill="#484848" filter="url(#b2)"/>
<path d="M390 1375L392.9 1370L395.7 1369.3L398.6 1369.2L401.4 1369.2L404.3 1369.2L407.1 1369.2L410 1369.2L412.9 1369.2L415.7 1369.2L418.6 1369.2L421.4 1369.2L424.3 1369.2L427.1 1369.2L430 1369.2L432.9 1369.2L435.7 1369.2L438.6 1369.2L441.4 1369.2L444.3 1369.2L447.1 1369.2L450 1369.2L452.9 1369.2L455.7 1369.2L458.6 1369.2L461.4 1369.2L464.3 1369.3L467.1 1370L470 1375L470 1375L467.1 1380L464.3 1380.7L461.4 1380.8L458.6 1380.8L455.7 1380.8L452.9 1380.8L450 1380.8L447.1 1380.8L444.3 1380.8L441.4 1380.8L438.6 1380.8L435.7 1380.8L432.9 1380.8L430 1380.8L427.1 1380.8L424.3 1380.8L421.4 1380.8L418.6 1380.8L415.7 1380.8L412.9 1380.8L410 1380.8L407.1 1380.8L404.3 1380.8L401.4 1380.8L398.6 1380.8L395.7 1380.7L392.9 1380L390 1375Z" fill="#2c2c2c" filter="url(#b2)"/>
<path d="M482 1374.2L484.7 1369.5L487.4 1368.7L490.1 1368.7L492.9 1368.7L495.6 1368.7L498.3 1368.7L501 1368.7L503.7 1368.7L506.4 1368.7L509.1 1368.7L511.9 1368.7L514.6 1368.7L517.3 1368.7L520 1368.7L522.7 1368.7L525.4 1368.7L528.1 1368.7L530.9 1368.7L533.6 1368.7L536.3 1368.7L539 1368.7L541.7 1368.7L544.4 1368.7L547.1 1368.7L549.9 1368.7L552.6 1368.7L555.3 1369.5L558 1374.2L558 1374.2L555.3 1378.9L552.6 1379.7L549.9 1379.7L547.1 1379.7L544.4 1379.7L541.7 1379.7L539 1379.7L536.3 1379.7L533.6 1379.7L530.9 1379.7L528.1 1379.7L525.4 1379.7L522.7 1379.7L520 1379.7L517.3 1379.7L514.6 1379.7L511.9 1379.7L509.1 1379.7L506.4 1379.7L503.7 1379.7L501 1379.7L498.3 1379.7L495.6 1379.7L492.9 1379.7L490.1 1379.7L487.4 1379.7L484.7 1378.9L482 1374.2Z" fill="#2c2c2c" filter="url(#b2)"/>
<path d="M570 1374.2L572.8 1369.5L575.6 1369L578.5 1369L581.3 1369L584.1 1369L586.9 1369L589.8 1369L592.6 1369L595.4 1369L598.2 1369L601 1369L603.9 1369L606.7 1369L609.5 1369L612.3 1369L615.1 1369L618 1369L620.8 1369L623.6 1369L626.4 1369L629.2 1369L632.1 1369L634.9 1369L637.7 1369L640.5 1369L643.4 1369L646.2 1369.5L649 1374.2L649 1374.2L646.2 1378.9L643.4 1379.5L640.5 1379.5L637.7 1379.5L634.9 1379.5L632.1 1379.5L629.2 1379.5L626.4 1379.5L623.6 1379.5L620.8 1379.5L618 1379.5L615.1 1379.5L612.3 1379.5L609.5 1379.5L606.7 1379.5L603.9 1379.5L601 1379.5L598.2 1379.5L595.4 1379.5L592.6 1379.5L589.8 1379.5L586.9 1379.5L584.1 1379.5L581.3 1379.5L578.5 1379.5L575.6 1379.5L572.8 1378.9L570 1374.2Z" fill="#3c3c3c" filter="url(#b2)"/>
<path d="M662 1373L665 1368.6L667.9 1368.2L670.9 1368.2L673.9 1368.2L676.8 1368.2L679.8 1368.2L682.8 1368.2L685.7 1368.2L688.7 1368.2L691.6 1368.2L694.6 1368.2L697.6 1368.2L700.5 1368.2L703.5 1368.2L706.5 1368.2L709.4 1368.2L712.4 1368.2L715.4 1368.2L718.3 1368.2L721.3 1368.2L724.2 1368.2L727.2 1368.2L730.2 1368.2L733.1 1368.2L736.1 1368.2L739.1 1368.2L742 1368.6L745 1373L745 1373L742 1377.4L739.1 1377.8L736.1 1377.8L733.1 1377.8L730.2 1377.8L727.2 1377.8L724.2 1377.8L721.3 1377.8L718.3 1377.8L715.4 1377.8L712.4 1377.8L709.4 1377.8L706.5 1377.8L703.5 1377.8L700.5 1377.8L697.6 1377.8L694.6 1377.8L691.6 1377.8L688.7 1377.8L685.7 1377.8L682.8 1377.8L679.8 1377.8L676.8 1377.8L673.9 1377.8L670.9 1377.8L667.9 1377.8L665 1377.4L662 1373Z" fill="#585858" filter="url(#b2)"/>
<rect x="194" y="1329.7" width="564.6" height="93.5" filter="url(#nz)" opacity="0.2"/>
</g>
<clipPath id="cc3"><rect x="194" y="1443.3" width="563" height="93.1"/></clipPath>
<g clip-path="url(#cc3)">
<rect x="194" y="1443.3" width="563" height="93.1" fill="#d8d8d8"/>
<path d="M201 1487.5L204 1482.3L207.1 1481.6L210.1 1481.9L213.1 1482.2L216.2 1482.5L219.2 1482.8L222.2 1483L225.3 1483.2L228.3 1483.4L231.4 1483.5L234.4 1483.6L237.4 1483.7L240.5 1483.7L243.5 1483.8L246.5 1483.7L249.6 1483.7L252.6 1483.6L255.6 1483.5L258.7 1483.4L261.7 1483.2L264.8 1483L267.8 1482.8L270.8 1482.5L273.9 1482.2L276.9 1481.9L279.9 1481.6L283 1482.3L286 1487.5L286 1487.5L283 1493.5L279.9 1495L276.9 1495.4L273.9 1495.7L270.8 1496L267.8 1496.3L264.8 1496.5L261.7 1496.7L258.7 1496.9L255.6 1497L252.6 1497.1L249.6 1497.2L246.5 1497.2L243.5 1497.2L240.5 1497.2L237.4 1497.2L234.4 1497.1L231.4 1497L228.3 1496.9L225.3 1496.7L222.2 1496.5L219.2 1496.3L216.2 1496L213.1 1495.7L210.1 1495.4L207.1 1495L204 1493.5L201 1487.5Z" fill="#101010" filter="url(#b1)"/>
<path d="M299 1490L301.6 1484.7L304.2 1483.4L306.8 1483.2L309.4 1483.2L312 1483.2L314.6 1483.2L317.2 1483.2L319.9 1483.2L322.5 1483.2L325.1 1483.2L327.7 1483.2L330.3 1483.2L332.9 1483.2L335.5 1483.2L338.1 1483.2L340.7 1483.2L343.3 1483.2L345.9 1483.2L348.5 1483.2L351.1 1483.2L353.8 1483.2L356.4 1483.2L359 1483.2L361.6 1483.2L364.2 1483.2L366.8 1483.4L369.4 1484.7L372 1490L372 1490L369.4 1495.3L366.8 1496.6L364.2 1496.8L361.6 1496.8L359 1496.8L356.4 1496.8L353.8 1496.8L351.1 1496.8L348.5 1496.8L345.9 1496.8L343.3 1496.8L340.7 1496.8L338.1 1496.8L335.5 1496.8L332.9 1496.8L330.3 1496.8L327.7 1496.8L325.1 1496.8L322.5 1496.8L319.9 1496.8L317.2 1496.8L314.6 1496.8L312 1496.8L309.4 1496.8L306.8 1496.8L304.2 1496.6L301.6 1495.3L299 1490Z" fill="#0a0a0a" filter="url(#b1)"/>
<path d="M385 1492L387.8 1486.8L390.6 1485.8L393.5 1485.8L396.3 1485.8L399.1 1485.8L401.9 1485.8L404.8 1485.8L407.6 1485.8L410.4 1485.8L413.2 1485.8L416 1485.8L418.9 1485.8L421.7 1485.8L424.5 1485.8L427.3 1485.8L430.1 1485.8L433 1485.8L435.8 1485.8L438.6 1485.8L441.4 1485.8L444.2 1485.8L447.1 1485.8L449.9 1485.8L452.7 1485.8L455.5 1485.8L458.4 1485.8L461.2 1486.8L464 1492L464 1492L461.2 1497.2L458.4 1498.2L455.5 1498.2L452.7 1498.2L449.9 1498.2L447.1 1498.2L444.2 1498.2L441.4 1498.2L438.6 1498.2L435.8 1498.2L433 1498.2L430.1 1498.2L427.3 1498.2L424.5 1498.2L421.7 1498.2L418.9 1498.2L416 1498.2L413.2 1498.2L410.4 1498.2L407.6 1498.2L404.8 1498.2L401.9 1498.2L399.1 1498.2L396.3 1498.2L393.5 1498.2L390.6 1498.2L387.8 1497.2L385 1492Z" fill="#101010" filter="url(#b1)"/>
<path d="M479 1493L481.8 1487.8L484.5 1486.7L487.2 1486.5L490 1486.3L492.8 1486.1L495.5 1485.9L498.2 1485.8L501 1485.6L503.8 1485.5L506.5 1485.4L509.2 1485.3L512 1485.3L514.8 1485.3L517.5 1485.2L520.2 1485.3L523 1485.3L525.8 1485.3L528.5 1485.4L531.2 1485.5L534 1485.6L536.8 1485.8L539.5 1485.9L542.2 1486.1L545 1486.3L547.8 1486.5L550.5 1486.7L553.2 1487.8L556 1493L556 1493L553.2 1497.6L550.5 1498.2L547.8 1498L545 1497.8L542.2 1497.6L539.5 1497.4L536.8 1497.2L534 1497.1L531.2 1497L528.5 1496.9L525.8 1496.8L523 1496.8L520.2 1496.8L517.5 1496.8L514.8 1496.8L512 1496.8L509.2 1496.8L506.5 1496.9L503.8 1497L501 1497.1L498.2 1497.2L495.5 1497.4L492.8 1497.6L490 1497.8L487.2 1498L484.5 1498.2L481.8 1497.6L479 1493Z" fill="#121212" filter="url(#b1)"/>
<path d="M570 1488.6L572.7 1483.2L575.4 1482L578.1 1481.8L580.9 1481.8L583.6 1481.8L586.3 1481.8L589 1481.8L591.7 1481.8L594.4 1481.8L597.1 1481.8L599.9 1481.8L602.6 1481.8L605.3 1481.8L608 1481.8L610.7 1481.8L613.4 1481.8L616.1 1481.8L618.9 1481.8L621.6 1481.8L624.3 1481.8L627 1481.8L629.7 1481.8L632.4 1481.8L635.1 1481.8L637.9 1481.8L640.6 1482L643.3 1483.2L646 1488.6L646 1488.6L643.3 1494L640.6 1495.2L637.9 1495.3L635.1 1495.3L632.4 1495.3L629.7 1495.3L627 1495.3L624.3 1495.3L621.6 1495.3L618.9 1495.3L616.1 1495.3L613.4 1495.3L610.7 1495.3L608 1495.3L605.3 1495.3L602.6 1495.3L599.9 1495.3L597.1 1495.3L594.4 1495.3L591.7 1495.3L589 1495.3L586.3 1495.3L583.6 1495.3L580.9 1495.3L578.1 1495.3L575.4 1495.2L572.7 1494L570 1488.6Z" fill="#0a0a0a" filter="url(#b1)"/>
<path d="M660 1487.5L663.1 1482.1L666.3 1481.3L669.4 1481.4L672.6 1481.5L675.7 1481.5L678.9 1481.5L682 1481.5L685.1 1481.4L688.3 1481.4L691.4 1481.3L694.6 1481.1L697.7 1480.9L700.9 1480.7L704 1480.5L707.1 1480.2L710.3 1479.9L713.4 1479.6L716.6 1479.3L719.7 1478.9L722.9 1478.4L726 1478L729.1 1477.5L732.3 1477L735.4 1476.5L738.6 1475.9L741.7 1475.3L744.9 1475.6L748 1480.5L748 1480.5L744.9 1486.7L741.7 1488.3L738.6 1488.9L735.4 1489.5L732.3 1490L729.1 1490.5L726 1491L722.9 1491.4L719.7 1491.9L716.6 1492.3L713.4 1492.6L710.3 1492.9L707.1 1493.2L704 1493.5L700.9 1493.7L697.7 1493.9L694.6 1494.1L691.4 1494.3L688.3 1494.4L685.1 1494.4L682 1494.5L678.9 1494.5L675.7 1494.5L672.6 1494.5L669.4 1494.4L666.3 1494.3L663.1 1493.2L660 1487.5Z" fill="#0a0a0a" filter="url(#b1)"/>
<rect x="194" y="1443.3" width="563" height="93.1" filter="url(#nz)" opacity="0.15"/>
</g>
<rect x="223.5" y="1813.3" width="58.5" height="52.2" fill="#000"/>
<line x1="252.8" y1="1810.2" x2="252.8" y2="1813.3" stroke="#000" stroke-width="1.7"/>
<line x1="238.2" y1="1810.2" x2="267.2" y2="1810.2" stroke="#000" stroke-width="1.7"/>
<circle cx="252.7" cy="1806.4" r="5.3" fill="#fff" stroke="#000" stroke-width="1.5"/>
<circle cx="229.1" cy="1817.3" r="5.3" fill="#fff" stroke="#000" stroke-width="1.5"/>
<circle cx="229.1" cy="1817.3" r="5.3" fill="#fff"/>
<circle cx="276.6" cy="1815.3" r="5.3" fill="#fff" stroke="#000" stroke-width="1.5"/>
<circle cx="276.6" cy="1815.3" r="5.3" fill="#fff"/>
<rect x="311.7" y="1710.4" width="58.5" height="155.2" fill="#1b00ff"/>
<line x1="340.9" y1="1696.5" x2="340.9" y2="1710.4" stroke="#1b00ff" stroke-width="1.7"/>
<line x1="326.4" y1="1696.5" x2="355.4" y2="1696.5" stroke="#1b00ff" stroke-width="1.7"/>
<circle cx="317.3" cy="1692" r="5.3" fill="#fff" stroke="#1b00ff" stroke-width="1.5"/>
<circle cx="341" cy="1701.6" r="5.3" fill="#fff" stroke="#1b00ff" stroke-width="1.5"/>
<circle cx="341" cy="1739.8" r="5.3" fill="#fff" stroke="#1b00ff" stroke-width="1.5"/>
<circle cx="341" cy="1739.8" r="5.3" fill="#fff"/>
<rect x="400" y="1776.3" width="58.4" height="89.3" fill="#fc1c10"/>
<line x1="429.2" y1="1768.2" x2="429.2" y2="1776.3" stroke="#fc1c10" stroke-width="1.7"/>
<line x1="414.7" y1="1768.2" x2="443.7" y2="1768.2" stroke="#fc1c10" stroke-width="1.7"/>
<circle cx="452.8" cy="1764.4" r="5.3" fill="#fff" stroke="#fc1c10" stroke-width="1.5"/>
<circle cx="429.2" cy="1771.5" r="5.3" fill="#fff" stroke="#fc1c10" stroke-width="1.5"/>
<circle cx="429.2" cy="1791.4" r="5.3" fill="#fff" stroke="#fc1c10" stroke-width="1.5"/>
<circle cx="429.2" cy="1791.4" r="5.3" fill="#fff"/>
<path d="M489.7 1865.6V1844.1H545.4V1865.6" fill="none" stroke="#000" stroke-width="1.7"/>
<line x1="517.5" y1="1840.2" x2="517.5" y2="1845.8" stroke="#000" stroke-width="1.7"/>
<line x1="503" y1="1840.2" x2="532" y2="1840.2" stroke="#000" stroke-width="1.7"/>
<line x1="503" y1="1845.8" x2="532" y2="1845.8" stroke="#000" stroke-width="1.7"/>
<circle cx="517.5" cy="1837.7" r="5.3" fill="#fff" stroke="#000" stroke-width="1.5"/>
<circle cx="493.4" cy="1846.6" r="5.3" fill="#fff" stroke="#000" stroke-width="1.5"/>
<circle cx="541.7" cy="1846" r="5.3" fill="#fff" stroke="#000" stroke-width="1.5"/>
<path d="M577.6 1865.6V1817.6H633.6V1865.6" fill="none" stroke="#1b00ff" stroke-width="1.7"/>
<line x1="605.6" y1="1809.7" x2="605.6" y2="1822.9" stroke="#1b00ff" stroke-width="1.7"/>
<line x1="591.1" y1="1809.7" x2="620.1" y2="1809.7" stroke="#1b00ff" stroke-width="1.7"/>
<line x1="591.1" y1="1822.9" x2="620.1" y2="1822.9" stroke="#1b00ff" stroke-width="1.7"/>
<circle cx="605.3" cy="1811" r="5.3" fill="#fff" stroke="#1b00ff" stroke-width="1.5"/>
<circle cx="629.4" cy="1808.9" r="5.3" fill="#fff" stroke="#1b00ff" stroke-width="1.5"/>
<circle cx="605.3" cy="1828.8" r="5.3" fill="#fff" stroke="#1b00ff" stroke-width="1.5"/>
<path d="M665.9 1865.6V1840.3H721.4V1865.6" fill="none" stroke="#fc1c10" stroke-width="1.7"/>
<line x1="693.6" y1="1832.6" x2="693.6" y2="1845.3" stroke="#fc1c10" stroke-width="1.7"/>
<line x1="679.1" y1="1832.6" x2="708.1" y2="1832.6" stroke="#fc1c10" stroke-width="1.7"/>
<line x1="679.1" y1="1845.3" x2="708.1" y2="1845.3" stroke="#fc1c10" stroke-width="1.7"/>
<circle cx="693.5" cy="1827.5" r="5.3" fill="#fff" stroke="#fc1c10" stroke-width="1.5"/>
<circle cx="669.6" cy="1846.6" r="5.3" fill="#fff" stroke="#fc1c10" stroke-width="1.5"/>
<circle cx="717.1" cy="1844" r="5.3" fill="#fff" stroke="#fc1c10" stroke-width="1.5"/>
<line x1="194.8" y1="1551.2" x2="194.8" y2="1866.5" stroke="#000" stroke-width="1.8"/>
<line x1="180.1" y1="1865.6" x2="754" y2="1865.6" stroke="#000" stroke-width="1.8"/>
<text x="171.8" y="1876.8" font-size="31.5" text-anchor="end">0</text>
<line x1="180.1" y1="1813.3" x2="194.8" y2="1813.3" stroke="#000" stroke-width="1.8"/>
<text x="171.8" y="1824.5" font-size="31.5" text-anchor="end">1</text>
<line x1="180.1" y1="1761.1" x2="194.8" y2="1761.1" stroke="#000" stroke-width="1.8"/>
<text x="171.8" y="1772.3" font-size="31.5" text-anchor="end">2</text>
<line x1="180.1" y1="1708.8" x2="194.8" y2="1708.8" stroke="#000" stroke-width="1.8"/>
<text x="171.8" y="1720" font-size="31.5" text-anchor="end">3</text>
<line x1="180.1" y1="1656.6" x2="194.8" y2="1656.6" stroke="#000" stroke-width="1.8"/>
<text x="171.8" y="1667.8" font-size="31.5" text-anchor="end">4</text>
<line x1="180.1" y1="1604.3" x2="194.8" y2="1604.3" stroke="#000" stroke-width="1.8"/>
<text x="171.8" y="1615.5" font-size="31.5" text-anchor="end">5</text>
<line x1="180.1" y1="1552.1" x2="194.8" y2="1552.1" stroke="#000" stroke-width="1.8"/>
<text x="171.8" y="1563.3" font-size="31.5" text-anchor="end">6</text>
<line x1="257" y1="1603" x2="512" y2="1603" stroke="#000" stroke-width="1.8"/>
<text x="384.2" y="1599.3" font-size="30" text-anchor="middle">**</text>
<line x1="257" y1="1640.1" x2="432.5" y2="1640.1" stroke="#000" stroke-width="1.8"/>
<text x="344.3" y="1636.9" font-size="30" text-anchor="middle">*</text>
<line x1="257" y1="1677.5" x2="339.7" y2="1677.5" stroke="#000" stroke-width="1.8"/>
<text x="298.2" y="1673.8" font-size="30" text-anchor="middle">**</text>
<line x1="522.1" y1="1640.1" x2="698" y2="1640.1" stroke="#000" stroke-width="1.8"/>
<text x="609.7" y="1628.2" font-size="31" text-anchor="middle">n.s.</text>
<line x1="520.6" y1="1677.5" x2="603.2" y2="1677.5" stroke="#000" stroke-width="1.8"/>
<text x="561.2" y="1673.8" font-size="30" text-anchor="middle">*</text>
<text transform="translate(98.1 1700.5) rotate(-90)" font-size="31" text-anchor="middle">pAKTT308</text>
<text transform="translate(136.3 1700.5) rotate(-90)" font-size="31" text-anchor="middle">/T-AKT (fold)</text>
<line x1="1062.6" y1="650.5" x2="1062.6" y2="688.2" stroke="#fc1c10" stroke-width="1.5"/>
<line x1="1053.6" y1="650.5" x2="1071.6" y2="650.5" stroke="#fc1c10" stroke-width="1.5"/>
<line x1="1053.6" y1="688.2" x2="1071.6" y2="688.2" stroke="#fc1c10" stroke-width="1.5"/>
<line x1="1176.6" y1="726.3" x2="1176.6" y2="753.4" stroke="#fc1c10" stroke-width="1.5"/>
<line x1="1167.6" y1="726.3" x2="1185.6" y2="726.3" stroke="#fc1c10" stroke-width="1.5"/>
<line x1="1167.6" y1="753.4" x2="1185.6" y2="753.4" stroke="#fc1c10" stroke-width="1.5"/>
<circle cx="948.5" cy="718.9" r="8.7" fill="none" stroke="#fc1c10" stroke-width="1.5"/>
<circle cx="1062.6" cy="669.3" r="8.7" fill="none" stroke="#fc1c10" stroke-width="1.5"/>
<circle cx="1176.6" cy="739.9" r="8.7" fill="none" stroke="#fc1c10" stroke-width="1.5"/>
<circle cx="1290.7" cy="839.6" r="8.7" fill="none" stroke="#fc1c10" stroke-width="1.5"/>
<circle cx="1404.7" cy="855.4" r="8.7" fill="none" stroke="#fc1c10" stroke-width="1.5"/>
<line x1="1176.6" y1="611.3" x2="1176.6" y2="712.8" stroke="#1b00ff" stroke-width="1.5"/>
<line x1="1167.6" y1="611.3" x2="1185.6" y2="611.3" stroke="#1b00ff" stroke-width="1.5"/>
<line x1="1167.6" y1="712.8" x2="1185.6" y2="712.8" stroke="#1b00ff" stroke-width="1.5"/>
<line x1="1290.7" y1="663.7" x2="1290.7" y2="724.4" stroke="#1b00ff" stroke-width="1.5"/>
<line x1="1281.7" y1="663.7" x2="1299.7" y2="663.7" stroke="#1b00ff" stroke-width="1.5"/>
<line x1="1281.7" y1="724.4" x2="1299.7" y2="724.4" stroke="#1b00ff" stroke-width="1.5"/>
<circle cx="948.5" cy="718.9" r="8.7" fill="none" stroke="#1b00ff" stroke-width="1.5"/>
<circle cx="1062.6" cy="669.3" r="8.7" fill="none" stroke="#1b00ff" stroke-width="1.5"/>
<circle cx="1176.6" cy="662" r="8.7" fill="none" stroke="#1b00ff" stroke-width="1.5"/>
<circle cx="1290.7" cy="693.9" r="8.7" fill="none" stroke="#1b00ff" stroke-width="1.5"/>
<circle cx="1404.7" cy="686.8" r="8.7" fill="none" stroke="#1b00ff" stroke-width="1.5"/>
<line x1="1062.6" y1="654.8" x2="1062.6" y2="700.4" stroke="#000" stroke-width="1.5"/>
<line x1="1053.6" y1="654.8" x2="1071.6" y2="654.8" stroke="#000" stroke-width="1.5"/>
<line x1="1053.6" y1="700.4" x2="1071.6" y2="700.4" stroke="#000" stroke-width="1.5"/>
<line x1="1176.6" y1="725.5" x2="1176.6" y2="753.4" stroke="#000" stroke-width="1.5"/>
<line x1="1167.6" y1="725.5" x2="1185.6" y2="725.5" stroke="#000" stroke-width="1.5"/>
<line x1="1167.6" y1="753.4" x2="1185.6" y2="753.4" stroke="#000" stroke-width="1.5"/>
<circle cx="948.5" cy="718.9" r="8.7" fill="none" stroke="#000" stroke-width="1.5"/>
<circle cx="1062.6" cy="677.6" r="8.7" fill="none" stroke="#000" stroke-width="1.5"/>
<circle cx="1176.6" cy="739.9" r="8.7" fill="none" stroke="#000" stroke-width="1.5"/>
<circle cx="1290.7" cy="837.8" r="8.7" fill="none" stroke="#000" stroke-width="1.5"/>
<circle cx="1404.7" cy="857.8" r="8.7" fill="none" stroke="#000" stroke-width="1.5"/>
<line x1="948.5" y1="706.8" x2="948.5" y2="733.9" stroke="#fc1c10" stroke-width="1.5"/>
<line x1="939.5" y1="706.8" x2="957.5" y2="706.8" stroke="#fc1c10" stroke-width="1.5"/>
<line x1="939.5" y1="733.9" x2="957.5" y2="733.9" stroke="#fc1c10" stroke-width="1.5"/>
<line x1="1062.6" y1="671.1" x2="1062.6" y2="730.6" stroke="#fc1c10" stroke-width="1.5"/>
<line x1="1053.6" y1="671.1" x2="1071.6" y2="671.1" stroke="#fc1c10" stroke-width="1.5"/>
<line x1="1053.6" y1="730.6" x2="1071.6" y2="730.6" stroke="#fc1c10" stroke-width="1.5"/>
<line x1="1176.6" y1="387.5" x2="1176.6" y2="505" stroke="#fc1c10" stroke-width="1.5"/>
<line x1="1167.6" y1="387.5" x2="1185.6" y2="387.5" stroke="#fc1c10" stroke-width="1.5"/>
<line x1="1167.6" y1="505" x2="1185.6" y2="505" stroke="#fc1c10" stroke-width="1.5"/>
<line x1="1290.7" y1="367.8" x2="1290.7" y2="514.8" stroke="#fc1c10" stroke-width="1.5"/>
<line x1="1281.7" y1="367.8" x2="1299.7" y2="367.8" stroke="#fc1c10" stroke-width="1.5"/>
<line x1="1281.7" y1="514.8" x2="1299.7" y2="514.8" stroke="#fc1c10" stroke-width="1.5"/>
<line x1="1404.7" y1="202" x2="1404.7" y2="427.8" stroke="#fc1c10" stroke-width="1.5"/>
<line x1="1395.7" y1="202" x2="1413.7" y2="202" stroke="#fc1c10" stroke-width="1.5"/>
<line x1="1395.7" y1="427.8" x2="1413.7" y2="427.8" stroke="#fc1c10" stroke-width="1.5"/>
<circle cx="948.5" cy="718.9" r="9.3" fill="#fc1c10"/>
<circle cx="1062.6" cy="700.9" r="9.3" fill="#fc1c10"/>
<circle cx="1176.6" cy="446" r="9.3" fill="#fc1c10"/>
<circle cx="1290.7" cy="442" r="9.3" fill="#fc1c10"/>
<circle cx="1404.7" cy="314.4" r="9.3" fill="#fc1c10"/>
<line x1="1062.6" y1="654.4" x2="1062.6" y2="671.8" stroke="#1b00ff" stroke-width="1.5"/>
<line x1="1053.6" y1="654.4" x2="1071.6" y2="654.4" stroke="#1b00ff" stroke-width="1.5"/>
<line x1="1053.6" y1="671.8" x2="1071.6" y2="671.8" stroke="#1b00ff" stroke-width="1.5"/>
<line x1="1290.7" y1="400" x2="1290.7" y2="432.9" stroke="#1b00ff" stroke-width="1.5"/>
<line x1="1281.7" y1="400" x2="1299.7" y2="400" stroke="#1b00ff" stroke-width="1.5"/>
<line x1="1281.7" y1="432.9" x2="1299.7" y2="432.9" stroke="#1b00ff" stroke-width="1.5"/>
<line x1="1404.7" y1="287.5" x2="1404.7" y2="305.6" stroke="#1b00ff" stroke-width="1.5"/>
<line x1="1395.7" y1="287.5" x2="1413.7" y2="287.5" stroke="#1b00ff" stroke-width="1.5"/>
<line x1="1395.7" y1="305.6" x2="1413.7" y2="305.6" stroke="#1b00ff" stroke-width="1.5"/>
<circle cx="948.5" cy="718.9" r="9.3" fill="#1b00ff"/>
<circle cx="1062.6" cy="663" r="9.3" fill="#1b00ff"/>
<circle cx="1176.6" cy="415.6" r="9.3" fill="#1b00ff"/>
<circle cx="1290.7" cy="416.2" r="9.3" fill="#1b00ff"/>
<circle cx="1404.7" cy="296.9" r="9.3" fill="#1b00ff"/>
<line x1="948.5" y1="704.5" x2="948.5" y2="730.5" stroke="#000" stroke-width="1.5"/>
<line x1="939.5" y1="704.5" x2="957.5" y2="704.5" stroke="#000" stroke-width="1.5"/>
<line x1="939.5" y1="730.5" x2="957.5" y2="730.5" stroke="#000" stroke-width="1.5"/>
<line x1="1062.6" y1="644.7" x2="1062.6" y2="709.6" stroke="#000" stroke-width="1.5"/>
<line x1="1053.6" y1="644.7" x2="1071.6" y2="644.7" stroke="#000" stroke-width="1.5"/>
<line x1="1053.6" y1="709.6" x2="1071.6" y2="709.6" stroke="#000" stroke-width="1.5"/>
<line x1="1176.6" y1="390.6" x2="1176.6" y2="571" stroke="#000" stroke-width="1.5"/>
<line x1="1167.6" y1="390.6" x2="1185.6" y2="390.6" stroke="#000" stroke-width="1.5"/>
<line x1="1167.6" y1="571" x2="1185.6" y2="571" stroke="#000" stroke-width="1.5"/>
<line x1="1290.7" y1="393.4" x2="1290.7" y2="548" stroke="#000" stroke-width="1.5"/>
<line x1="1281.7" y1="393.4" x2="1299.7" y2="393.4" stroke="#000" stroke-width="1.5"/>
<line x1="1281.7" y1="548" x2="1299.7" y2="548" stroke="#000" stroke-width="1.5"/>
<line x1="1404.7" y1="210.4" x2="1404.7" y2="392.6" stroke="#000" stroke-width="1.5"/>
<line x1="1395.7" y1="210.4" x2="1413.7" y2="210.4" stroke="#000" stroke-width="1.5"/>
<line x1="1395.7" y1="392.6" x2="1413.7" y2="392.6" stroke="#000" stroke-width="1.5"/>
<circle cx="948.5" cy="718.9" r="9.3" fill="#000"/>
<circle cx="1062.6" cy="675.9" r="9.3" fill="#000"/>
<circle cx="1176.6" cy="480.9" r="9.3" fill="#000"/>
<circle cx="1290.7" cy="469.3" r="9.3" fill="#000"/>
<circle cx="1404.7" cy="301.4" r="9.3" fill="#000"/>
<path d="M948.5 717.3L955.6 714.3L962.8 711.4L969.9 708.7L977 706L984.1 703.4L991.3 700.9L998.4 698.6L1005.5 696.3L1012.7 694.1L1019.8 692L1026.9 690L1034 688.1L1041.2 686.3L1048.3 684.6L1055.4 683L1062.6 681.4L1069.7 680L1076.8 678.6L1083.9 677.3L1091.1 676.2L1098.2 675.1L1105.3 674L1112.5 673.1L1119.6 672.3L1126.7 671.5L1133.8 670.8L1141 670.2L1148.1 669.7L1155.2 669.2L1162.4 668.8L1169.5 668.6L1176.6 668.3L1183.7 668.2L1190.9 668.1L1198 668.1L1205.1 668.2L1212.3 668.4L1219.4 668.6L1226.5 668.9L1233.7 669.2L1240.8 669.7L1247.9 670.1L1255 670.7L1262.2 671.3L1269.3 672L1276.4 672.8L1283.6 673.6L1290.7 674.5L1297.8 675.4L1304.9 676.4L1312.1 677.5L1319.2 678.6L1326.3 679.8L1333.5 681L1340.6 682.3L1347.7 683.6L1354.8 685L1362 686.5L1369.1 688L1376.2 689.6L1383.4 691.2L1390.5 692.8L1397.6 694.5L1404.7 696.3" fill="none" stroke="#1b00ff" stroke-width="1.5" stroke-linejoin="round"/>
<path d="M948.5 718.2L955.6 713L962.8 708.1L969.9 703.3L977 698.9L984.1 694.7L991.3 691L998.4 687.6L1005.5 684.6L1012.7 682L1019.8 679.9L1026.9 678.3L1034 677.1L1041.2 676.4L1048.3 676.2L1055.4 676.4L1062.6 677.2L1069.7 678.4L1076.8 680L1083.9 682.1L1091.1 684.7L1098.2 687.7L1105.3 691L1112.5 694.8L1119.6 698.9L1126.7 703.4L1133.8 708.1L1141 713.2L1148.1 718.5L1155.2 724L1162.4 729.8L1169.5 735.7L1176.6 741.7L1183.7 747.9L1190.9 754.2L1198 760.5L1205.1 766.8L1212.3 773.1L1219.4 779.4L1226.5 785.6L1233.7 791.8L1240.8 797.8L1247.9 803.7L1255 809.4L1262.2 814.9L1269.3 820.3L1276.4 825.4L1283.6 830.2L1290.7 834.8L1297.8 839.2L1304.9 843.2L1312.1 847L1319.2 850.5L1326.3 853.7L1333.5 856.6L1340.6 859.2L1347.7 861.6L1354.8 863.7L1362 865.6L1369.1 867.3L1376.2 868.7L1383.4 870L1390.5 871.2L1397.6 872.2L1404.7 873.3" fill="none" stroke="#000" stroke-width="1.5" stroke-linejoin="round"/>
<path d="M948.5 717.8L955.6 711.9L962.8 706.2L969.9 700.8L977 695.7L984.1 690.9L991.3 686.6L998.4 682.7L1005.5 679.3L1012.7 676.3L1019.8 673.9L1026.9 672L1034 670.6L1041.2 669.7L1048.3 669.4L1055.4 669.6L1062.6 670.4L1069.7 671.6L1076.8 673.4L1083.9 675.7L1091.1 678.5L1098.2 681.7L1105.3 685.3L1112.5 689.4L1119.6 693.9L1126.7 698.7L1133.8 703.9L1141 709.3L1148.1 715.1L1155.2 721.1L1162.4 727.2L1169.5 733.6L1176.6 740.1L1183.7 746.7L1190.9 753.4L1198 760.1L1205.1 766.8L1212.3 773.5L1219.4 780.1L1226.5 786.6L1233.7 793L1240.8 799.3L1247.9 805.4L1255 811.3L1262.2 816.9L1269.3 822.3L1276.4 827.5L1283.6 832.4L1290.7 837L1297.8 841.3L1304.9 845.3L1312.1 849L1319.2 852.3L1326.3 855.4L1333.5 858.2L1340.6 860.7L1347.7 862.9L1354.8 864.9L1362 866.6L1369.1 868.2L1376.2 869.7L1383.4 871L1390.5 872.2L1397.6 873.5L1404.7 874.8" fill="none" stroke="#fc1c10" stroke-width="1.5" stroke-linejoin="round"/>
<path d="M948.5 721.5L955.6 716.7L962.8 711.7L969.9 706.4L977 700.8L984.1 695L991.3 688.9L998.4 682.6L1005.5 676.1L1012.7 669.4L1019.8 662.4L1026.9 655.3L1034 648L1041.2 640.6L1048.3 632.9L1055.4 625.2L1062.6 617.3L1069.7 609.3L1076.8 601.2L1083.9 593L1091.1 584.7L1098.2 576.4L1105.3 568L1112.5 559.5L1119.6 551L1126.7 542.5L1133.8 533.9L1141 525.4L1148.1 516.8L1155.2 508.3L1162.4 499.8L1169.5 491.4L1176.6 483L1183.7 474.6L1190.9 466.4L1198 458.2L1205.1 450.1L1212.3 442.2L1219.4 434.3L1226.5 426.6L1233.7 419.1L1240.8 411.6L1247.9 404.4L1255 397.3L1262.2 390.5L1269.3 383.8L1276.4 377.3L1283.6 371.1L1290.7 365.1L1297.8 359.3L1304.9 353.8L1312.1 348.6L1319.2 343.6L1326.3 339L1333.5 334.6L1340.6 330.6L1347.7 326.9L1354.8 323.5L1362 320.4L1369.1 317.8L1376.2 315.5L1383.4 313.6L1390.5 312L1397.6 310.9L1404.7 310.2" fill="none" stroke="#1b00ff" stroke-width="1.5" stroke-linejoin="round"/>
<path d="M948.5 718.8L955.6 715.6L962.8 712.2L969.9 708.7L977 704.9L984.1 701L991.3 696.8L998.4 692.5L1005.5 688L1012.7 683.4L1019.8 678.6L1026.9 673.6L1034 668.5L1041.2 663.3L1048.3 657.9L1055.4 652.3L1062.6 646.6L1069.7 640.8L1076.8 634.9L1083.9 628.8L1091.1 622.7L1098.2 616.4L1105.3 610L1112.5 603.5L1119.6 596.9L1126.7 590.3L1133.8 583.5L1141 576.6L1148.1 569.7L1155.2 562.7L1162.4 555.7L1169.5 548.5L1176.6 541.3L1183.7 534.1L1190.9 526.8L1198 519.4L1205.1 512L1212.3 504.6L1219.4 497.2L1226.5 489.7L1233.7 482.2L1240.8 474.6L1247.9 467.1L1255 459.5L1262.2 452L1269.3 444.4L1276.4 436.9L1283.6 429.4L1290.7 421.8L1297.8 414.3L1304.9 406.8L1312.1 399.4L1319.2 392L1326.3 384.6L1333.5 377.3L1340.6 370L1347.7 362.7L1354.8 355.5L1362 348.4L1369.1 341.3L1376.2 334.4L1383.4 327.4L1390.5 320.6L1397.6 313.8L1404.7 307.2" fill="none" stroke="#000" stroke-width="1.5" stroke-linejoin="round"/>
<path d="M948.5 740.1L955.6 736L962.8 731.6L969.9 727L977 722L984.1 716.8L991.3 711.4L998.4 705.7L1005.5 699.8L1012.7 693.7L1019.8 687.3L1026.9 680.8L1034 674.1L1041.2 667.2L1048.3 660.2L1055.4 653L1062.6 645.6L1069.7 638.1L1076.8 630.5L1083.9 622.8L1091.1 614.9L1098.2 607L1105.3 599L1112.5 590.9L1119.6 582.7L1126.7 574.5L1133.8 566.3L1141 558L1148.1 549.7L1155.2 541.4L1162.4 533L1169.5 524.7L1176.6 516.4L1183.7 508.2L1190.9 499.9L1198 491.7L1205.1 483.6L1212.3 475.6L1219.4 467.6L1226.5 459.7L1233.7 451.9L1240.8 444.2L1247.9 436.6L1255 429.2L1262.2 421.9L1269.3 414.8L1276.4 407.8L1283.6 401L1290.7 394.3L1297.8 387.9L1304.9 381.7L1312.1 375.6L1319.2 369.8L1326.3 364.2L1333.5 358.9L1340.6 353.8L1347.7 349L1354.8 344.5L1362 340.2L1369.1 336.2L1376.2 332.5L1383.4 329.2L1390.5 326.1L1397.6 323.4L1404.7 321.1" fill="none" stroke="#fc1c10" stroke-width="1.5" stroke-linejoin="round"/>
<line x1="948.5" y1="56.9" x2="948.5" y2="893.7" stroke="#000" stroke-width="1.6"/>
<line x1="939" y1="884.2" x2="1405.6" y2="884.2" stroke="#000" stroke-width="1.6"/>
<text x="927.5" y="894.8" font-size="29.5" text-anchor="end">0</text>
<line x1="939" y1="718.9" x2="948.5" y2="718.9" stroke="#000" stroke-width="1.6"/>
<text x="927.5" y="729.5" font-size="29.5" text-anchor="end">1</text>
<line x1="939" y1="553.6" x2="948.5" y2="553.6" stroke="#000" stroke-width="1.6"/>
<text x="927.5" y="564.2" font-size="29.5" text-anchor="end">2</text>
<line x1="939" y1="388.3" x2="948.5" y2="388.3" stroke="#000" stroke-width="1.6"/>
<text x="927.5" y="398.9" font-size="29.5" text-anchor="end">3</text>
<line x1="939" y1="223" x2="948.5" y2="223" stroke="#000" stroke-width="1.6"/>
<text x="927.5" y="233.6" font-size="29.5" text-anchor="end">4</text>
<line x1="939" y1="57.7" x2="948.5" y2="57.7" stroke="#000" stroke-width="1.6"/>
<text x="927.5" y="68.3" font-size="29.5" text-anchor="end">5</text>
<line x1="1062.6" y1="884.2" x2="1062.6" y2="893.7" stroke="#000" stroke-width="1.6"/>
<line x1="1176.6" y1="884.2" x2="1176.6" y2="893.7" stroke="#000" stroke-width="1.6"/>
<line x1="1290.7" y1="884.2" x2="1290.7" y2="893.7" stroke="#000" stroke-width="1.6"/>
<line x1="1404.7" y1="884.2" x2="1404.7" y2="893.7" stroke="#000" stroke-width="1.6"/>
<text x="948.5" y="929" font-size="35" text-anchor="middle">3</text>
<text x="1062.6" y="929" font-size="35" text-anchor="middle">5</text>
<text x="1176.6" y="929" font-size="35" text-anchor="middle">7</text>
<text x="1290.7" y="929" font-size="35" text-anchor="middle">9</text>
<text x="1405.2" y="929" font-size="35" text-anchor="middle" letter-spacing="-1.5">11</text>
<text x="1429.7" y="928.5" font-size="31">(d)</text>
<text x="846.9" y="36.8" font-size="42" font-weight="bold">B</text>
<text x="967" y="82.7" font-size="31">SW48</text>
<text transform="translate(888.5 474.5) rotate(-90)" font-size="29.5" text-anchor="middle">Cell viability (fold)</text>
<line x1="1421.2" y1="143.3" x2="1450.9" y2="143.3" stroke="#000" stroke-width="1.4"/>
<circle cx="1435.9" cy="143.3" r="8.8" fill="#000"/>
<text x="1456.5" y="153.9" font-size="31">Mock</text>
<line x1="1421.2" y1="232.3" x2="1450.9" y2="232.3" stroke="#1b00ff" stroke-width="1.4"/>
<circle cx="1435.9" cy="232.3" r="8.8" fill="#1b00ff"/>
<text x="1456.5" y="242.9" font-size="31">DKK1-3xF</text>
<line x1="1421.2" y1="321.9" x2="1450.9" y2="321.9" stroke="#fc1c10" stroke-width="1.4"/>
<circle cx="1435.9" cy="321.9" r="8.8" fill="#fc1c10"/>
<text x="1456.5" y="332.5" font-size="31"><tspan class="sy">Δ</tspan>CRD1-3xF</text>
<line x1="1421.2" y1="411" x2="1450.9" y2="411" stroke="#000" stroke-width="1.4"/>
<circle cx="1435.9" cy="411" r="8" fill="#fff" stroke="#000" stroke-width="1.6"/>
<line x1="1427" y1="411" x2="1444.8" y2="411" stroke="#000" stroke-width="1.4"/>
<text x="1456.5" y="421.6" font-size="31">Mock + OXA</text>
<line x1="1421.2" y1="500" x2="1450.9" y2="500" stroke="#1b00ff" stroke-width="1.4"/>
<circle cx="1435.9" cy="500" r="8" fill="#fff" stroke="#1b00ff" stroke-width="1.6"/>
<line x1="1427" y1="500" x2="1444.8" y2="500" stroke="#1b00ff" stroke-width="1.4"/>
<text x="1456.5" y="510.6" font-size="31">DKK1-3xF + OXA</text>
<line x1="1421.2" y1="589" x2="1450.9" y2="589" stroke="#fc1c10" stroke-width="1.4"/>
<circle cx="1435.9" cy="589" r="8" fill="#fff" stroke="#fc1c10" stroke-width="1.6"/>
<line x1="1427" y1="589" x2="1444.8" y2="589" stroke="#fc1c10" stroke-width="1.4"/>
<text x="1456.5" y="599.6" font-size="31"><tspan class="sy">Δ</tspan>CRD1-3xF + OXA</text>
<line x1="1718.6" y1="130.5" x2="1718.6" y2="243.3" stroke="#000" stroke-width="1.6"/>
<line x1="1778" y1="130.5" x2="1778" y2="332.4" stroke="#000" stroke-width="1.6"/>
<line x1="1834.8" y1="130.5" x2="1834.8" y2="421.7" stroke="#000" stroke-width="1.6"/>
<line x1="1718.6" y1="400.2" x2="1718.6" y2="512.2" stroke="#000" stroke-width="1.6"/>
<line x1="1778" y1="400.2" x2="1778" y2="601.8" stroke="#000" stroke-width="1.6"/>
<text x="1748.8" y="195" font-size="31" text-anchor="middle">n.s.</text>
<text x="1805.8" y="239" font-size="31" text-anchor="middle">n.s.</text>
<text x="1805.8" y="508" font-size="31" text-anchor="middle">n.s.</text>
<text transform="translate(1842.4 277) rotate(90)" font-size="30" text-anchor="middle">**</text>
<text transform="translate(1733.3 457) rotate(90)" font-size="30" text-anchor="middle">****</text>
<line x1="947.5" y1="1698.1" x2="947.5" y2="1738.4" stroke="#fc1c10" stroke-width="1.5"/>
<line x1="938.5" y1="1698.1" x2="956.5" y2="1698.1" stroke="#fc1c10" stroke-width="1.5"/>
<line x1="938.5" y1="1738.4" x2="956.5" y2="1738.4" stroke="#fc1c10" stroke-width="1.5"/>
<line x1="1061.4" y1="1648.9" x2="1061.4" y2="1720.2" stroke="#fc1c10" stroke-width="1.5"/>
<line x1="1052.4" y1="1648.9" x2="1070.4" y2="1648.9" stroke="#fc1c10" stroke-width="1.5"/>
<line x1="1052.4" y1="1720.2" x2="1070.4" y2="1720.2" stroke="#fc1c10" stroke-width="1.5"/>
<line x1="1175.4" y1="1531.8" x2="1175.4" y2="1625.2" stroke="#fc1c10" stroke-width="1.5"/>
<line x1="1166.4" y1="1531.8" x2="1184.4" y2="1531.8" stroke="#fc1c10" stroke-width="1.5"/>
<line x1="1166.4" y1="1625.2" x2="1184.4" y2="1625.2" stroke="#fc1c10" stroke-width="1.5"/>
<line x1="1289.3" y1="1554.6" x2="1289.3" y2="1588.1" stroke="#fc1c10" stroke-width="1.5"/>
<line x1="1280.3" y1="1554.6" x2="1298.3" y2="1554.6" stroke="#fc1c10" stroke-width="1.5"/>
<line x1="1280.3" y1="1588.1" x2="1298.3" y2="1588.1" stroke="#fc1c10" stroke-width="1.5"/>
<line x1="1403.3" y1="1617.8" x2="1403.3" y2="1723.2" stroke="#fc1c10" stroke-width="1.5"/>
<line x1="1394.3" y1="1617.8" x2="1412.3" y2="1617.8" stroke="#fc1c10" stroke-width="1.5"/>
<line x1="1394.3" y1="1723.2" x2="1412.3" y2="1723.2" stroke="#fc1c10" stroke-width="1.5"/>
<circle cx="947.5" cy="1718" r="8.7" fill="none" stroke="#fc1c10" stroke-width="1.5"/>
<circle cx="1061.4" cy="1684.6" r="8.7" fill="none" stroke="#fc1c10" stroke-width="1.5"/>
<circle cx="1175.4" cy="1578.6" r="8.7" fill="none" stroke="#fc1c10" stroke-width="1.5"/>
<circle cx="1289.3" cy="1571.6" r="8.7" fill="none" stroke="#fc1c10" stroke-width="1.5"/>
<circle cx="1403.3" cy="1670.5" r="8.7" fill="none" stroke="#fc1c10" stroke-width="1.5"/>
<line x1="1175.4" y1="1514.1" x2="1175.4" y2="1578.1" stroke="#1b00ff" stroke-width="1.5"/>
<line x1="1166.4" y1="1514.1" x2="1184.4" y2="1514.1" stroke="#1b00ff" stroke-width="1.5"/>
<line x1="1166.4" y1="1578.1" x2="1184.4" y2="1578.1" stroke="#1b00ff" stroke-width="1.5"/>
<line x1="1403.3" y1="1511.8" x2="1403.3" y2="1537" stroke="#1b00ff" stroke-width="1.5"/>
<line x1="1394.3" y1="1511.8" x2="1412.3" y2="1511.8" stroke="#1b00ff" stroke-width="1.5"/>
<line x1="1394.3" y1="1537" x2="1412.3" y2="1537" stroke="#1b00ff" stroke-width="1.5"/>
<circle cx="947.5" cy="1718" r="8.7" fill="none" stroke="#1b00ff" stroke-width="1.5"/>
<circle cx="1061.4" cy="1645.8" r="8.7" fill="none" stroke="#1b00ff" stroke-width="1.5"/>
<circle cx="1175.4" cy="1546.1" r="8.7" fill="none" stroke="#1b00ff" stroke-width="1.5"/>
<circle cx="1289.3" cy="1509.9" r="8.7" fill="none" stroke="#1b00ff" stroke-width="1.5"/>
<circle cx="1403.3" cy="1524.1" r="8.7" fill="none" stroke="#1b00ff" stroke-width="1.5"/>
<line x1="947.5" y1="1700.6" x2="947.5" y2="1734.6" stroke="#000" stroke-width="1.5"/>
<line x1="938.5" y1="1700.6" x2="956.5" y2="1700.6" stroke="#000" stroke-width="1.5"/>
<line x1="938.5" y1="1734.6" x2="956.5" y2="1734.6" stroke="#000" stroke-width="1.5"/>
<line x1="1061.4" y1="1623.9" x2="1061.4" y2="1700.7" stroke="#000" stroke-width="1.5"/>
<line x1="1052.4" y1="1623.9" x2="1070.4" y2="1623.9" stroke="#000" stroke-width="1.5"/>
<line x1="1052.4" y1="1700.7" x2="1070.4" y2="1700.7" stroke="#000" stroke-width="1.5"/>
<line x1="1175.4" y1="1502.9" x2="1175.4" y2="1665.2" stroke="#000" stroke-width="1.5"/>
<line x1="1166.4" y1="1502.9" x2="1184.4" y2="1502.9" stroke="#000" stroke-width="1.5"/>
<line x1="1166.4" y1="1665.2" x2="1184.4" y2="1665.2" stroke="#000" stroke-width="1.5"/>
<line x1="1289.3" y1="1549.3" x2="1289.3" y2="1654.1" stroke="#000" stroke-width="1.5"/>
<line x1="1280.3" y1="1549.3" x2="1298.3" y2="1549.3" stroke="#000" stroke-width="1.5"/>
<line x1="1280.3" y1="1654.1" x2="1298.3" y2="1654.1" stroke="#000" stroke-width="1.5"/>
<line x1="1403.3" y1="1617.8" x2="1403.3" y2="1681" stroke="#000" stroke-width="1.5"/>
<line x1="1394.3" y1="1617.8" x2="1412.3" y2="1617.8" stroke="#000" stroke-width="1.5"/>
<line x1="1394.3" y1="1681" x2="1412.3" y2="1681" stroke="#000" stroke-width="1.5"/>
<circle cx="947.5" cy="1718" r="8.7" fill="none" stroke="#000" stroke-width="1.5"/>
<circle cx="1061.4" cy="1662.6" r="8.7" fill="none" stroke="#000" stroke-width="1.5"/>
<circle cx="1175.4" cy="1583.7" r="8.7" fill="none" stroke="#000" stroke-width="1.5"/>
<circle cx="1289.3" cy="1602" r="8.7" fill="none" stroke="#000" stroke-width="1.5"/>
<circle cx="1403.3" cy="1649.8" r="8.7" fill="none" stroke="#000" stroke-width="1.5"/>
<line x1="947.5" y1="1704" x2="947.5" y2="1732.1" stroke="#fc1c10" stroke-width="1.5"/>
<line x1="938.5" y1="1704" x2="956.5" y2="1704" stroke="#fc1c10" stroke-width="1.5"/>
<line x1="938.5" y1="1732.1" x2="956.5" y2="1732.1" stroke="#fc1c10" stroke-width="1.5"/>
<line x1="1061.4" y1="1665.4" x2="1061.4" y2="1717.6" stroke="#fc1c10" stroke-width="1.5"/>
<line x1="1052.4" y1="1665.4" x2="1070.4" y2="1665.4" stroke="#fc1c10" stroke-width="1.5"/>
<line x1="1052.4" y1="1717.6" x2="1070.4" y2="1717.6" stroke="#fc1c10" stroke-width="1.5"/>
<line x1="1175.4" y1="1284" x2="1175.4" y2="1461.4" stroke="#fc1c10" stroke-width="1.5"/>
<line x1="1166.4" y1="1284" x2="1184.4" y2="1284" stroke="#fc1c10" stroke-width="1.5"/>
<line x1="1166.4" y1="1461.4" x2="1184.4" y2="1461.4" stroke="#fc1c10" stroke-width="1.5"/>
<line x1="1289.3" y1="1256.7" x2="1289.3" y2="1408.6" stroke="#fc1c10" stroke-width="1.5"/>
<line x1="1280.3" y1="1256.7" x2="1298.3" y2="1256.7" stroke="#fc1c10" stroke-width="1.5"/>
<line x1="1280.3" y1="1408.6" x2="1298.3" y2="1408.6" stroke="#fc1c10" stroke-width="1.5"/>
<line x1="1403.3" y1="1290.4" x2="1403.3" y2="1350.8" stroke="#fc1c10" stroke-width="1.5"/>
<line x1="1394.3" y1="1290.4" x2="1412.3" y2="1290.4" stroke="#fc1c10" stroke-width="1.5"/>
<line x1="1394.3" y1="1350.8" x2="1412.3" y2="1350.8" stroke="#fc1c10" stroke-width="1.5"/>
<circle cx="947.5" cy="1718" r="9.3" fill="#fc1c10"/>
<circle cx="1061.4" cy="1691.4" r="9.3" fill="#fc1c10"/>
<circle cx="1175.4" cy="1372.5" r="9.3" fill="#fc1c10"/>
<circle cx="1289.3" cy="1332.3" r="9.3" fill="#fc1c10"/>
<circle cx="1403.3" cy="1319.9" r="9.3" fill="#fc1c10"/>
<line x1="1175.4" y1="1388.4" x2="1175.4" y2="1466.1" stroke="#1b00ff" stroke-width="1.5"/>
<line x1="1166.4" y1="1388.4" x2="1184.4" y2="1388.4" stroke="#1b00ff" stroke-width="1.5"/>
<line x1="1166.4" y1="1466.1" x2="1184.4" y2="1466.1" stroke="#1b00ff" stroke-width="1.5"/>
<line x1="1289.3" y1="1335.1" x2="1289.3" y2="1382" stroke="#1b00ff" stroke-width="1.5"/>
<line x1="1280.3" y1="1335.1" x2="1298.3" y2="1335.1" stroke="#1b00ff" stroke-width="1.5"/>
<line x1="1280.3" y1="1382" x2="1298.3" y2="1382" stroke="#1b00ff" stroke-width="1.5"/>
<line x1="1403.3" y1="1350.8" x2="1403.3" y2="1426.3" stroke="#1b00ff" stroke-width="1.5"/>
<line x1="1394.3" y1="1350.8" x2="1412.3" y2="1350.8" stroke="#1b00ff" stroke-width="1.5"/>
<line x1="1394.3" y1="1426.3" x2="1412.3" y2="1426.3" stroke="#1b00ff" stroke-width="1.5"/>
<circle cx="947.5" cy="1718" r="9.3" fill="#1b00ff"/>
<circle cx="1061.4" cy="1667.5" r="9.3" fill="#1b00ff"/>
<circle cx="1175.4" cy="1428.4" r="9.3" fill="#1b00ff"/>
<circle cx="1289.3" cy="1359.1" r="9.3" fill="#1b00ff"/>
<circle cx="1403.3" cy="1389" r="9.3" fill="#1b00ff"/>
<line x1="947.5" y1="1706.1" x2="947.5" y2="1729.5" stroke="#000" stroke-width="1.5"/>
<line x1="938.5" y1="1706.1" x2="956.5" y2="1706.1" stroke="#000" stroke-width="1.5"/>
<line x1="938.5" y1="1729.5" x2="956.5" y2="1729.5" stroke="#000" stroke-width="1.5"/>
<line x1="1061.4" y1="1608.8" x2="1061.4" y2="1682.4" stroke="#000" stroke-width="1.5"/>
<line x1="1052.4" y1="1608.8" x2="1070.4" y2="1608.8" stroke="#000" stroke-width="1.5"/>
<line x1="1052.4" y1="1682.4" x2="1070.4" y2="1682.4" stroke="#000" stroke-width="1.5"/>
<line x1="1175.4" y1="1337.4" x2="1175.4" y2="1501.4" stroke="#000" stroke-width="1.5"/>
<line x1="1166.4" y1="1337.4" x2="1184.4" y2="1337.4" stroke="#000" stroke-width="1.5"/>
<line x1="1166.4" y1="1501.4" x2="1184.4" y2="1501.4" stroke="#000" stroke-width="1.5"/>
<line x1="1289.3" y1="1219.8" x2="1289.3" y2="1419.6" stroke="#000" stroke-width="1.5"/>
<line x1="1280.3" y1="1219.8" x2="1298.3" y2="1219.8" stroke="#000" stroke-width="1.5"/>
<line x1="1280.3" y1="1419.6" x2="1298.3" y2="1419.6" stroke="#000" stroke-width="1.5"/>
<line x1="1403.3" y1="1339.2" x2="1403.3" y2="1389" stroke="#000" stroke-width="1.5"/>
<line x1="1394.3" y1="1339.2" x2="1412.3" y2="1339.2" stroke="#000" stroke-width="1.5"/>
<line x1="1394.3" y1="1389" x2="1412.3" y2="1389" stroke="#000" stroke-width="1.5"/>
<circle cx="947.5" cy="1718" r="9.3" fill="#000"/>
<circle cx="1061.4" cy="1645.6" r="9.3" fill="#000"/>
<circle cx="1175.4" cy="1419.3" r="9.3" fill="#000"/>
<circle cx="1289.3" cy="1319.9" r="9.3" fill="#000"/>
<circle cx="1403.3" cy="1364.2" r="9.3" fill="#000"/>
<path d="M947.5 1727.3L954.6 1723.4L961.7 1719.3L968.9 1714.9L976 1710.4L983.1 1705.7L990.2 1700.8L997.3 1695.7L1004.5 1690.5L1011.6 1685.2L1018.7 1679.8L1025.8 1674.3L1033 1668.7L1040.1 1663L1047.2 1657.3L1054.3 1651.6L1061.4 1645.8L1068.6 1640L1075.7 1634.2L1082.8 1628.3L1089.9 1622.6L1097 1616.8L1104.2 1611.1L1111.3 1605.4L1118.4 1599.8L1125.5 1594.2L1132.7 1588.8L1139.8 1583.4L1146.9 1578.2L1154 1573L1161.1 1568L1168.3 1563.1L1175.4 1558.3L1182.5 1553.7L1189.6 1549.3L1196.7 1545L1203.9 1540.9L1211 1537L1218.1 1533.3L1225.2 1529.7L1232.3 1526.4L1239.5 1523.3L1246.6 1520.4L1253.7 1517.8L1260.8 1515.3L1268 1513.1L1275.1 1511.2L1282.2 1509.5L1289.3 1508.1L1296.4 1506.9L1303.6 1506L1310.7 1505.4L1317.8 1505L1324.9 1505L1332 1505.2L1339.2 1505.7L1346.3 1506.5L1353.4 1507.6L1360.5 1509L1367.7 1510.8L1374.8 1512.8L1381.9 1515.1L1389 1517.8L1396.1 1520.8L1403.3 1524.1" fill="none" stroke="#1b00ff" stroke-width="1.5" stroke-linejoin="round"/>
<path d="M947.5 1721.1L954.6 1718.4L961.7 1715.3L968.9 1711.9L976 1708.2L983.1 1704.3L990.2 1700.1L997.3 1695.8L1004.5 1691.4L1011.6 1686.8L1018.7 1682.1L1025.8 1677.3L1033 1672.5L1040.1 1667.6L1047.2 1662.8L1054.3 1657.9L1061.4 1653.1L1068.6 1648.4L1075.7 1643.7L1082.8 1639.2L1089.9 1634.7L1097 1630.4L1104.2 1626.2L1111.3 1622.1L1118.4 1618.3L1125.5 1614.6L1132.7 1611.1L1139.8 1607.9L1146.9 1604.8L1154 1602L1161.1 1599.4L1168.3 1597L1175.4 1594.9L1182.5 1593.1L1189.6 1591.5L1196.7 1590.2L1203.9 1589.1L1211 1588.3L1218.1 1587.8L1225.2 1587.6L1232.3 1587.6L1239.5 1587.9L1246.6 1588.4L1253.7 1589.2L1260.8 1590.3L1268 1591.7L1275.1 1593.2L1282.2 1595.1L1289.3 1597.1L1296.4 1599.4L1303.6 1601.9L1310.7 1604.6L1317.8 1607.5L1324.9 1610.6L1332 1613.8L1339.2 1617.2L1346.3 1620.7L1353.4 1624.4L1360.5 1628.2L1367.7 1632L1374.8 1636L1381.9 1640L1389 1644L1396.1 1648L1403.3 1652.1" fill="none" stroke="#000" stroke-width="1.5" stroke-linejoin="round"/>
<path d="M947.5 1753.2L954.6 1749.3L961.7 1744.9L968.9 1740.1L976 1735L983.1 1729.6L990.2 1723.9L997.3 1718L1004.5 1711.9L1011.6 1705.6L1018.7 1699.3L1025.8 1692.8L1033 1686.2L1040.1 1679.7L1047.2 1673.1L1054.3 1666.6L1061.4 1660.1L1068.6 1653.7L1075.7 1647.4L1082.8 1641.2L1089.9 1635.2L1097 1629.3L1104.2 1623.7L1111.3 1618.2L1118.4 1613L1125.5 1608.1L1132.7 1603.4L1139.8 1599L1146.9 1594.8L1154 1591L1161.1 1587.5L1168.3 1584.3L1175.4 1581.4L1182.5 1578.9L1189.6 1576.7L1196.7 1574.9L1203.9 1573.5L1211 1572.3L1218.1 1571.6L1225.2 1571.2L1232.3 1571.2L1239.5 1571.5L1246.6 1572.2L1253.7 1573.3L1260.8 1574.7L1268 1576.4L1275.1 1578.5L1282.2 1580.9L1289.3 1583.6L1296.4 1586.7L1303.6 1590L1310.7 1593.6L1317.8 1597.5L1324.9 1601.6L1332 1606L1339.2 1610.6L1346.3 1615.4L1353.4 1620.3L1360.5 1625.4L1367.7 1630.7L1374.8 1636.1L1381.9 1641.6L1389 1647.1L1396.1 1652.7L1403.3 1658.2" fill="none" stroke="#fc1c10" stroke-width="1.5" stroke-linejoin="round"/>
<path d="M947.5 1749L954.6 1744.6L961.7 1739.6L968.9 1734.1L976 1728.1L983.1 1721.6L990.2 1714.6L997.3 1707.2L1004.5 1699.4L1011.6 1691.2L1018.7 1682.6L1025.8 1673.7L1033 1664.6L1040.1 1655.1L1047.2 1645.4L1054.3 1635.4L1061.4 1625.3L1068.6 1615L1075.7 1604.5L1082.8 1593.9L1089.9 1583.3L1097 1572.5L1104.2 1561.7L1111.3 1550.9L1118.4 1540.1L1125.5 1529.3L1132.7 1518.6L1139.8 1508L1146.9 1497.5L1154 1487.1L1161.1 1476.8L1168.3 1466.7L1175.4 1456.9L1182.5 1447.2L1189.6 1437.9L1196.7 1428.7L1203.9 1419.9L1211 1411.5L1218.1 1403.3L1225.2 1395.6L1232.3 1388.2L1239.5 1381.2L1246.6 1374.7L1253.7 1368.7L1260.8 1363.1L1268 1358.1L1275.1 1353.5L1282.2 1349.6L1289.3 1346.2L1296.4 1343.4L1303.6 1341.3L1310.7 1339.8L1317.8 1338.9L1324.9 1338.8L1332 1339.4L1339.2 1340.7L1346.3 1342.7L1353.4 1345.6L1360.5 1349.2L1367.7 1353.7L1374.8 1359L1381.9 1365.1L1389 1372.2L1396.1 1380.2L1403.3 1389" fill="none" stroke="#1b00ff" stroke-width="1.5" stroke-linejoin="round"/>
<path d="M947.5 1745.9L954.6 1742L961.7 1737.3L968.9 1731.9L976 1725.9L983.1 1719.2L990.2 1711.9L997.3 1704.1L1004.5 1695.7L1011.6 1686.9L1018.7 1677.6L1025.8 1668L1033 1657.9L1040.1 1647.6L1047.2 1636.9L1054.3 1626L1061.4 1614.8L1068.6 1603.5L1075.7 1592L1082.8 1580.3L1089.9 1568.6L1097 1556.8L1104.2 1545L1111.3 1533.1L1118.4 1521.3L1125.5 1509.6L1132.7 1498L1139.8 1486.4L1146.9 1475.1L1154 1463.8L1161.1 1452.8L1168.3 1442.1L1175.4 1431.5L1182.5 1421.3L1189.6 1411.4L1196.7 1401.8L1203.9 1392.5L1211 1383.7L1218.1 1375.2L1225.2 1367.2L1232.3 1359.6L1239.5 1352.5L1246.6 1345.9L1253.7 1339.8L1260.8 1334.3L1268 1329.3L1275.1 1324.9L1282.2 1321.1L1289.3 1317.9L1296.4 1315.3L1303.6 1313.4L1310.7 1312.2L1317.8 1311.6L1324.9 1311.8L1332 1312.6L1339.2 1314.2L1346.3 1316.6L1353.4 1319.7L1360.5 1323.6L1367.7 1328.3L1374.8 1333.8L1381.9 1340.2L1389 1347.3L1396.1 1355.3L1403.3 1364.2" fill="none" stroke="#000" stroke-width="1.5" stroke-linejoin="round"/>
<path d="M947.5 1745.4L954.6 1742.3L961.7 1738.4L968.9 1733.7L976 1728.2L983.1 1722.1L990.2 1715.4L997.3 1708L1004.5 1700L1011.6 1691.5L1018.7 1682.5L1025.8 1673L1033 1663.1L1040.1 1652.9L1047.2 1642.2L1054.3 1631.3L1061.4 1620.1L1068.6 1608.6L1075.7 1596.9L1082.8 1585.1L1089.9 1573.1L1097 1560.9L1104.2 1548.7L1111.3 1536.5L1118.4 1524.2L1125.5 1512L1132.7 1499.8L1139.8 1487.7L1146.9 1475.7L1154 1463.8L1161.1 1452L1168.3 1440.5L1175.4 1429.2L1182.5 1418.1L1189.6 1407.3L1196.7 1396.8L1203.9 1386.6L1211 1376.8L1218.1 1367.3L1225.2 1358.3L1232.3 1349.6L1239.5 1341.4L1246.6 1333.7L1253.7 1326.5L1260.8 1319.7L1268 1313.5L1275.1 1307.9L1282.2 1302.8L1289.3 1298.4L1296.4 1294.5L1303.6 1291.3L1310.7 1288.7L1317.8 1286.8L1324.9 1285.6L1332 1285L1339.2 1285.2L1346.3 1286.2L1353.4 1287.9L1360.5 1290.3L1367.7 1293.6L1374.8 1297.6L1381.9 1302.4L1389 1308.1L1396.1 1314.6L1403.3 1322" fill="none" stroke="#fc1c10" stroke-width="1.5" stroke-linejoin="round"/>
<line x1="947.5" y1="995.1" x2="947.5" y2="1830.7" stroke="#000" stroke-width="1.6"/>
<line x1="938" y1="1821.2" x2="1404.1" y2="1821.2" stroke="#000" stroke-width="1.6"/>
<text x="926.5" y="1831.8" font-size="29.5" text-anchor="end">0</text>
<line x1="938" y1="1718" x2="947.5" y2="1718" stroke="#000" stroke-width="1.6"/>
<text x="926.5" y="1728.6" font-size="29.5" text-anchor="end">1</text>
<line x1="938" y1="1614.9" x2="947.5" y2="1614.9" stroke="#000" stroke-width="1.6"/>
<text x="926.5" y="1625.5" font-size="29.5" text-anchor="end">2</text>
<line x1="938" y1="1511.8" x2="947.5" y2="1511.8" stroke="#000" stroke-width="1.6"/>
<text x="926.5" y="1522.3" font-size="29.5" text-anchor="end">3</text>
<line x1="938" y1="1408.6" x2="947.5" y2="1408.6" stroke="#000" stroke-width="1.6"/>
<text x="926.5" y="1419.2" font-size="29.5" text-anchor="end">4</text>
<line x1="938" y1="1305.5" x2="947.5" y2="1305.5" stroke="#000" stroke-width="1.6"/>
<text x="926.5" y="1316" font-size="29.5" text-anchor="end">5</text>
<line x1="938" y1="1202.3" x2="947.5" y2="1202.3" stroke="#000" stroke-width="1.6"/>
<text x="926.5" y="1212.9" font-size="29.5" text-anchor="end">6</text>
<line x1="938" y1="1099.2" x2="947.5" y2="1099.2" stroke="#000" stroke-width="1.6"/>
<text x="926.5" y="1109.8" font-size="29.5" text-anchor="end">7</text>
<line x1="938" y1="996" x2="947.5" y2="996" stroke="#000" stroke-width="1.6"/>
<text x="926.5" y="1006.6" font-size="29.5" text-anchor="end">8</text>
<line x1="1061.4" y1="1821.2" x2="1061.4" y2="1830.7" stroke="#000" stroke-width="1.6"/>
<line x1="1175.4" y1="1821.2" x2="1175.4" y2="1830.7" stroke="#000" stroke-width="1.6"/>
<line x1="1289.3" y1="1821.2" x2="1289.3" y2="1830.7" stroke="#000" stroke-width="1.6"/>
<line x1="1403.3" y1="1821.2" x2="1403.3" y2="1830.7" stroke="#000" stroke-width="1.6"/>
<text x="947.5" y="1866" font-size="35" text-anchor="middle">3</text>
<text x="1061.4" y="1866" font-size="35" text-anchor="middle">5</text>
<text x="1175.4" y="1866" font-size="35" text-anchor="middle">7</text>
<text x="1289.3" y="1866" font-size="35" text-anchor="middle">9</text>
<text x="1403.8" y="1866" font-size="35" text-anchor="middle" letter-spacing="-1.5">11</text>
<text x="1428.3" y="1865.5" font-size="31">(d)</text>
<text x="847.6" y="1000.9" font-size="42" font-weight="bold">D</text>
<text x="970.6" y="1022.1" font-size="31">CA01</text>
<text transform="translate(888.5 1412) rotate(-90)" font-size="29.5" text-anchor="middle">Cell viability (fold)</text>
<line x1="1421.2" y1="1083.1" x2="1450.9" y2="1083.1" stroke="#000" stroke-width="1.4"/>
<circle cx="1435.9" cy="1083.1" r="8.8" fill="#000"/>
<text x="1456.5" y="1093.7" font-size="31">Mock</text>
<line x1="1421.2" y1="1172.1" x2="1450.9" y2="1172.1" stroke="#1b00ff" stroke-width="1.4"/>
<circle cx="1435.9" cy="1172.1" r="8.8" fill="#1b00ff"/>
<text x="1456.5" y="1182.7" font-size="31">DKK1-3xF</text>
<line x1="1421.2" y1="1261.7" x2="1450.9" y2="1261.7" stroke="#fc1c10" stroke-width="1.4"/>
<circle cx="1435.9" cy="1261.7" r="8.8" fill="#fc1c10"/>
<text x="1456.5" y="1272.3" font-size="31"><tspan class="sy">Δ</tspan>CRD1-3xF</text>
<line x1="1421.2" y1="1350.8" x2="1450.9" y2="1350.8" stroke="#000" stroke-width="1.4"/>
<circle cx="1435.9" cy="1350.8" r="8" fill="#fff" stroke="#000" stroke-width="1.6"/>
<line x1="1427" y1="1350.8" x2="1444.8" y2="1350.8" stroke="#000" stroke-width="1.4"/>
<text x="1456.5" y="1361.4" font-size="31">Mock + OXA</text>
<line x1="1421.2" y1="1439.8" x2="1450.9" y2="1439.8" stroke="#1b00ff" stroke-width="1.4"/>
<circle cx="1435.9" cy="1439.8" r="8" fill="#fff" stroke="#1b00ff" stroke-width="1.6"/>
<line x1="1427" y1="1439.8" x2="1444.8" y2="1439.8" stroke="#1b00ff" stroke-width="1.4"/>
<text x="1456.5" y="1450.4" font-size="31">DKK1-3xF + OXA</text>
<line x1="1421.2" y1="1528.8" x2="1450.9" y2="1528.8" stroke="#fc1c10" stroke-width="1.4"/>
<circle cx="1435.9" cy="1528.8" r="8" fill="#fff" stroke="#fc1c10" stroke-width="1.6"/>
<line x1="1427" y1="1528.8" x2="1444.8" y2="1528.8" stroke="#fc1c10" stroke-width="1.4"/>
<text x="1456.5" y="1539.4" font-size="31"><tspan class="sy">Δ</tspan>CRD1-3xF + OXA</text>
<line x1="1718.6" y1="1070.3" x2="1718.6" y2="1183.1" stroke="#000" stroke-width="1.6"/>
<line x1="1778" y1="1070.3" x2="1778" y2="1272.2" stroke="#000" stroke-width="1.6"/>
<line x1="1834.8" y1="1070.3" x2="1834.8" y2="1361.5" stroke="#000" stroke-width="1.6"/>
<line x1="1718.6" y1="1340" x2="1718.6" y2="1452" stroke="#000" stroke-width="1.6"/>
<line x1="1778" y1="1340" x2="1778" y2="1541.6" stroke="#000" stroke-width="1.6"/>
<text x="1748.8" y="1134.8" font-size="31" text-anchor="middle">n.s.</text>
<text x="1805.8" y="1178.8" font-size="31" text-anchor="middle">n.s.</text>
<text x="1805.8" y="1447.8" font-size="31" text-anchor="middle">n.s.</text>
<text transform="translate(1842.4 1216.8) rotate(90)" font-size="30" text-anchor="middle">**</text>
<text transform="translate(1733.3 1396.8) rotate(90)" font-size="30" text-anchor="middle">*</text>
<text x="5.3" y="1968" font-size="44" font-weight="bold">E</text>
<text x="175" y="1993.6" font-size="31" text-anchor="end">CM</text>
<text x="289" y="1993.6" font-size="31" text-anchor="middle">Mock</text>
<text x="482.6" y="1993.6" font-size="31" text-anchor="middle">DKK-3xF</text>
<text x="685" y="1993.6" font-size="31" text-anchor="middle"><tspan class="sy">Δ</tspan>CRD1-3xF</text>
<rect x="216.4" y="2004.8" width="147.4" height="5.4" fill="#000"/>
<rect x="409.4" y="2004.8" width="147.4" height="5.4" fill="#000"/>
<rect x="611.5" y="2002" width="147.1" height="5.4" fill="#000"/>
<rect x="214.6" y="2260.8" width="38.1" height="118.1" fill="#000"/>
<line x1="233.6" y1="2250.5" x2="233.6" y2="2260.8" stroke="#000" stroke-width="1.4"/>
<line x1="224.4" y1="2250.5" x2="242.8" y2="2250.5" stroke="#000" stroke-width="1.4"/>
<circle cx="218.5" cy="2250" r="3.2" fill="#fff" stroke="#000" stroke-width="1.2"/>
<circle cx="233.7" cy="2251.4" r="3.2" fill="#fff" stroke="#000" stroke-width="1.2"/>
<circle cx="233.7" cy="2280.5" r="3.4" fill="#fff"/>
<rect x="268.2" y="2205.4" width="37.8" height="173.5" fill="#000"/>
<line x1="287.1" y1="2199" x2="287.1" y2="2205.4" stroke="#000" stroke-width="1.4"/>
<line x1="277.9" y1="2199" x2="296.3" y2="2199" stroke="#000" stroke-width="1.4"/>
<circle cx="287" cy="2196.3" r="3.2" fill="#fff" stroke="#000" stroke-width="1.2"/>
<circle cx="287" cy="2204.8" r="3.2" fill="#fff" stroke="#000" stroke-width="1.2"/>
<circle cx="287" cy="2214.5" r="3.4" fill="#fff"/>
<rect x="321.7" y="2132.5" width="38.2" height="246.4" fill="#000"/>
<line x1="340.8" y1="2118.9" x2="340.8" y2="2132.5" stroke="#000" stroke-width="1.4"/>
<line x1="331.6" y1="2118.9" x2="350" y2="2118.9" stroke="#000" stroke-width="1.4"/>
<circle cx="340.8" cy="2110" r="3.2" fill="#fff" stroke="#000" stroke-width="1.2"/>
<circle cx="340.8" cy="2130.7" r="3.2" fill="#fff" stroke="#000" stroke-width="1.2"/>
<circle cx="340.8" cy="2155.8" r="3.4" fill="#fff"/>
<rect x="413" y="2244.8" width="38.1" height="134.1" fill="#1b00ff"/>
<line x1="432.1" y1="2243.6" x2="432.1" y2="2244.8" stroke="#1b00ff" stroke-width="1.4"/>
<line x1="422.9" y1="2243.6" x2="441.2" y2="2243.6" stroke="#1b00ff" stroke-width="1.4"/>
<circle cx="416.9" cy="2245.7" r="3.2" fill="#fff" stroke="#1b00ff" stroke-width="1.2"/>
<circle cx="432.4" cy="2243.3" r="3.2" fill="#fff" stroke="#1b00ff" stroke-width="1.2"/>
<circle cx="447.8" cy="2243.6" r="3.2" fill="#fff" stroke="#1b00ff" stroke-width="1.2"/>
<rect x="466.6" y="2242.6" width="38.1" height="136.3" fill="#1b00ff"/>
<line x1="485.6" y1="2238.1" x2="485.6" y2="2242.6" stroke="#1b00ff" stroke-width="1.4"/>
<line x1="476.4" y1="2238.1" x2="494.8" y2="2238.1" stroke="#1b00ff" stroke-width="1.4"/>
<circle cx="485.3" cy="2241.1" r="3.2" fill="#fff" stroke="#1b00ff" stroke-width="1.2"/>
<circle cx="485.3" cy="2249.6" r="3.4" fill="#fff"/>
<circle cx="501.1" cy="2235.7" r="3.2" fill="#fff" stroke="#1b00ff" stroke-width="1.2"/>
<rect x="520.1" y="2229.6" width="38.5" height="149.3" fill="#1b00ff"/>
<line x1="539.4" y1="2223.6" x2="539.4" y2="2229.6" stroke="#1b00ff" stroke-width="1.4"/>
<line x1="530.1" y1="2223.6" x2="548.6" y2="2223.6" stroke="#1b00ff" stroke-width="1.4"/>
<circle cx="539.5" cy="2227.2" r="3.2" fill="#fff" stroke="#1b00ff" stroke-width="1.2"/>
<circle cx="539.5" cy="2240.8" r="3.4" fill="#fff"/>
<circle cx="554.9" cy="2220.9" r="3.2" fill="#fff" stroke="#1b00ff" stroke-width="1.2"/>
<rect x="611.8" y="2241.7" width="38.2" height="137.2" fill="#fc1c10"/>
<line x1="630.9" y1="2240.3" x2="630.9" y2="2241.7" stroke="#fc1c10" stroke-width="1.4"/>
<line x1="621.7" y1="2240.3" x2="640.1" y2="2240.3" stroke="#fc1c10" stroke-width="1.4"/>
<circle cx="615.5" cy="2243.3" r="3.2" fill="#fff" stroke="#fc1c10" stroke-width="1.2"/>
<circle cx="630.9" cy="2239.9" r="3.2" fill="#fff" stroke="#fc1c10" stroke-width="1.2"/>
<circle cx="646.3" cy="2240.8" r="3.2" fill="#fff" stroke="#fc1c10" stroke-width="1.2"/>
<rect x="665.7" y="2182.1" width="38.1" height="196.8" fill="#fc1c10"/>
<line x1="684.8" y1="2171.5" x2="684.8" y2="2182.1" stroke="#fc1c10" stroke-width="1.4"/>
<line x1="675.5" y1="2171.5" x2="694" y2="2171.5" stroke="#fc1c10" stroke-width="1.4"/>
<circle cx="684.8" cy="2167.6" r="3.2" fill="#fff" stroke="#fc1c10" stroke-width="1.2"/>
<circle cx="684.8" cy="2176.7" r="3.2" fill="#fff" stroke="#fc1c10" stroke-width="1.2"/>
<circle cx="684.8" cy="2203" r="3.4" fill="#fff"/>
<rect x="719" y="2194.2" width="38.1" height="184.7" fill="#fc1c10"/>
<line x1="738" y1="2186.7" x2="738" y2="2194.2" stroke="#fc1c10" stroke-width="1.4"/>
<line x1="728.8" y1="2186.7" x2="747.2" y2="2186.7" stroke="#fc1c10" stroke-width="1.4"/>
<circle cx="738" cy="2189.7" r="3.2" fill="#fff" stroke="#fc1c10" stroke-width="1.2"/>
<circle cx="738" cy="2209.7" r="3.4" fill="#fff"/>
<circle cx="753.8" cy="2183.6" r="3.2" fill="#fff" stroke="#fc1c10" stroke-width="1.2"/>
<line x1="193.7" y1="2065.8" x2="193.7" y2="2379.6" stroke="#000" stroke-width="1.4"/>
<line x1="187" y1="2378.9" x2="779.5" y2="2378.9" stroke="#000" stroke-width="1.4"/>
<text x="177" y="2389.9" font-size="31" text-anchor="end">0</text>
<line x1="187" y1="2274.8" x2="193.7" y2="2274.8" stroke="#000" stroke-width="1.4"/>
<text x="177" y="2285.8" font-size="31" text-anchor="end">2</text>
<line x1="187" y1="2170.6" x2="193.7" y2="2170.6" stroke="#000" stroke-width="1.4"/>
<text x="177" y="2181.6" font-size="31" text-anchor="end">4</text>
<line x1="187" y1="2066.5" x2="193.7" y2="2066.5" stroke="#000" stroke-width="1.4"/>
<text x="177" y="2077.5" font-size="31" text-anchor="end">6</text>
<text transform="translate(141.6 2209) rotate(-90)" font-size="31.5" text-anchor="middle">Early apoptotic cells (%)</text>
<line x1="233" y1="2066.5" x2="341.4" y2="2066.5" stroke="#000" stroke-width="1.4"/>
<text x="280" y="2063" font-size="30" text-anchor="middle">**</text>
<line x1="233" y1="2101.6" x2="284.5" y2="2101.6" stroke="#000" stroke-width="1.4"/>
<text x="258.8" y="2098" font-size="30" text-anchor="middle">**</text>
<line x1="430.5" y1="2066.5" x2="538.9" y2="2066.5" stroke="#000" stroke-width="1.4"/>
<text x="484.7" y="2055" font-size="31" text-anchor="middle">n.s.</text>
<line x1="430.5" y1="2101.6" x2="482.3" y2="2101.6" stroke="#000" stroke-width="1.4"/>
<text x="456.5" y="2090.4" font-size="31" text-anchor="middle">n.s.</text>
<line x1="629.4" y1="2066.5" x2="737.7" y2="2066.5" stroke="#000" stroke-width="1.4"/>
<text x="676.3" y="2063" font-size="30" text-anchor="middle">**</text>
<line x1="629.4" y1="2101.6" x2="681.2" y2="2101.6" stroke="#000" stroke-width="1.4"/>
<text x="655.1" y="2098" font-size="30" text-anchor="middle">**</text>
<text x="175.5" y="2428.5" font-size="31" text-anchor="end">OXA</text>
<path d="M216.7 2428.8H358V2407.3Z" fill="#000"/>
<path d="M415.4 2428.8H557V2407.3Z" fill="#000"/>
<path d="M614.6 2428.8H755.9V2407.3Z" fill="#000"/>
<text x="845.5" y="1970.9" font-size="42" font-weight="bold">F</text>
<text x="1100" y="1994.5" font-size="31" text-anchor="middle">- OXA</text>
<text x="1260" y="1994.5" font-size="31" text-anchor="middle">+ OXA</text>
<rect x="1041.9" y="2006.3" width="118.3" height="5.4" fill="#000"/>
<rect x="1200.8" y="2006.3" width="118.9" height="5.4" fill="#000"/>
<rect x="1036.1" y="2280.8" width="33.9" height="103.2" fill="#000"/>
<line x1="1053" y1="2269.6" x2="1053" y2="2280.8" stroke="#000" stroke-width="1.6"/>
<line x1="1044" y1="2269.6" x2="1062" y2="2269.6" stroke="#000" stroke-width="1.6"/>
<circle cx="1053.4" cy="2259" r="4.5" fill="#fff" stroke="#000" stroke-width="1.6"/>
<circle cx="1041.3" cy="2296.2" r="4.8" fill="#fff"/>
<circle cx="1065.2" cy="2288.7" r="4.8" fill="#fff"/>
<rect x="1085.2" y="2246" width="34.2" height="138" fill="#1b00ff"/>
<line x1="1102.3" y1="2239.3" x2="1102.3" y2="2246" stroke="#1b00ff" stroke-width="1.6"/>
<line x1="1093.3" y1="2239.3" x2="1111.3" y2="2239.3" stroke="#1b00ff" stroke-width="1.6"/>
<circle cx="1102.7" cy="2241.7" r="4.5" fill="#fff" stroke="#1b00ff" stroke-width="1.6"/>
<circle cx="1114.8" cy="2237.2" r="4.5" fill="#fff" stroke="#1b00ff" stroke-width="1.6"/>
<circle cx="1102.7" cy="2259.3" r="4.8" fill="#fff"/>
<rect x="1129.6" y="2280.8" width="34.3" height="103.2" fill="#fc1c10"/>
<line x1="1146.8" y1="2269" x2="1146.8" y2="2280.8" stroke="#fc1c10" stroke-width="1.6"/>
<line x1="1137.8" y1="2269" x2="1155.8" y2="2269" stroke="#fc1c10" stroke-width="1.6"/>
<circle cx="1146.6" cy="2256.9" r="4.5" fill="#fff" stroke="#fc1c10" stroke-width="1.6"/>
<circle cx="1134.5" cy="2296.2" r="4.8" fill="#fff"/>
<circle cx="1158.7" cy="2289.3" r="4.8" fill="#fff"/>
<path d="M1200.1 2384V2366H1232.1V2384" fill="none" stroke="#000" stroke-width="1.6"/>
<line x1="1216.1" y1="2360.4" x2="1216.1" y2="2368" stroke="#000" stroke-width="1.6"/>
<line x1="1207.1" y1="2360.4" x2="1225.1" y2="2360.4" stroke="#000" stroke-width="1.6"/>
<line x1="1207.1" y1="2368" x2="1225.1" y2="2368" stroke="#000" stroke-width="1.6"/>
<circle cx="1215.3" cy="2355.2" r="4.5" fill="#fff" stroke="#000" stroke-width="1.6"/>
<circle cx="1204.1" cy="2367.3" r="4.5" fill="#fff" stroke="#000" stroke-width="1.6"/>
<circle cx="1227.4" cy="2366.7" r="4.5" fill="#fff" stroke="#000" stroke-width="1.6"/>
<path d="M1244.8 2384V2349.4H1276.6V2384" fill="none" stroke="#1b00ff" stroke-width="1.6"/>
<line x1="1260.7" y1="2343.7" x2="1260.7" y2="2351.3" stroke="#1b00ff" stroke-width="1.6"/>
<line x1="1251.7" y1="2343.7" x2="1269.7" y2="2343.7" stroke="#1b00ff" stroke-width="1.6"/>
<line x1="1251.7" y1="2351.3" x2="1269.7" y2="2351.3" stroke="#1b00ff" stroke-width="1.6"/>
<circle cx="1260.1" cy="2337.7" r="4.5" fill="#fff" stroke="#1b00ff" stroke-width="1.6"/>
<circle cx="1248.6" cy="2351.6" r="4.5" fill="#fff" stroke="#1b00ff" stroke-width="1.6"/>
<circle cx="1272.2" cy="2349.2" r="4.5" fill="#fff" stroke="#1b00ff" stroke-width="1.6"/>
<path d="M1286.3 2384V2357.6H1318.3V2384" fill="none" stroke="#fc1c10" stroke-width="1.6"/>
<line x1="1302.3" y1="2355" x2="1302.3" y2="2358.5" stroke="#fc1c10" stroke-width="1.6"/>
<line x1="1293.3" y1="2355" x2="1311.3" y2="2355" stroke="#fc1c10" stroke-width="1.6"/>
<line x1="1293.3" y1="2358.5" x2="1311.3" y2="2358.5" stroke="#fc1c10" stroke-width="1.6"/>
<circle cx="1291" cy="2359.2" r="4.5" fill="#fff" stroke="#fc1c10" stroke-width="1.6"/>
<circle cx="1302.5" cy="2356.2" r="4.5" fill="#fff" stroke="#fc1c10" stroke-width="1.6"/>
<circle cx="1314.6" cy="2356.2" r="4.5" fill="#fff" stroke="#fc1c10" stroke-width="1.6"/>
<line x1="1009.5" y1="2073.6" x2="1009.5" y2="2384.8" stroke="#000" stroke-width="1.6"/>
<line x1="996.8" y1="2384" x2="1348.5" y2="2384" stroke="#000" stroke-width="1.6"/>
<text x="991.5" y="2395.2" font-size="32" text-anchor="end">0</text>
<line x1="996.8" y1="2280.8" x2="1009.5" y2="2280.8" stroke="#000" stroke-width="1.6"/>
<text x="991.5" y="2292" font-size="32" text-anchor="end">1</text>
<line x1="996.8" y1="2177.6" x2="1009.5" y2="2177.6" stroke="#000" stroke-width="1.6"/>
<text x="991.5" y="2188.8" font-size="32" text-anchor="end">2</text>
<line x1="996.8" y1="2074.4" x2="1009.5" y2="2074.4" stroke="#000" stroke-width="1.6"/>
<text x="991.5" y="2085.6" font-size="32" text-anchor="end">3</text>
<text transform="translate(919.3 2229) rotate(-90)" font-size="31.3" text-anchor="middle">Relative colony number</text>
<text transform="translate(955.9 2226.5) rotate(-90)" font-size="31.3" text-anchor="middle">(fold)</text>
<line x1="1054.9" y1="2045.9" x2="1215.9" y2="2045.9" stroke="#000" stroke-width="1.6"/>
<text x="1135.1" y="2043.5" font-size="30" text-anchor="middle">**</text>
<line x1="1054.9" y1="2079.8" x2="1147.8" y2="2079.8" stroke="#000" stroke-width="1.6"/>
<text x="1101.3" y="2070.1" font-size="31" text-anchor="middle">n.s.</text>
<line x1="1054.9" y1="2117.7" x2="1098.8" y2="2117.7" stroke="#000" stroke-width="1.6"/>
<text x="1076.2" y="2108" font-size="31" text-anchor="middle">n.s.</text>
<line x1="1216.2" y1="2118.3" x2="1260.1" y2="2118.3" stroke="#000" stroke-width="1.6"/>
<text x="1238" y="2116" font-size="30" text-anchor="middle">*</text>
<text x="851.5" y="2428.5" font-size="30.6">3xF-DKK1</text>
<text transform="translate(1072 2421.5) rotate(-45)" font-size="32" text-anchor="end">Vec</text>
<text transform="translate(1117 2421.7) rotate(-45)" font-size="32" text-anchor="end">WT</text>
<text transform="translate(1163.3 2417) rotate(-45)" font-size="32" text-anchor="end"><tspan class="sy">Δ</tspan>CRD1</text>
<text transform="translate(1229.3 2421.5) rotate(-45)" font-size="32" text-anchor="end">Vec</text>
<text transform="translate(1274.6 2421.7) rotate(-45)" font-size="32" text-anchor="end">WT</text>
<text transform="translate(1320.9 2417) rotate(-45)" font-size="32" text-anchor="end"><tspan class="sy">Δ</tspan>CRD1</text>
<text x="1401.3" y="1971" font-size="42.5" font-weight="bold">G</text>
<text x="1612" y="1994.5" font-size="31" text-anchor="middle">- OXA</text>
<text x="1771.5" y="1994.5" font-size="31" text-anchor="middle">+ OXA</text>
<rect x="1553.7" y="2005.7" width="118.4" height="5.4" fill="#000"/>
<rect x="1713" y="2005.7" width="118.6" height="5.4" fill="#000"/>
<line x1="1570.3" y1="2181.2" x2="1570.3" y2="2248.4" stroke="#000" stroke-width="1.6"/>
<line x1="1570.3" y1="2295.6" x2="1570.3" y2="2343.7" stroke="#000" stroke-width="1.6"/>
<line x1="1561.9" y1="2181.2" x2="1578.8" y2="2181.2" stroke="#000" stroke-width="1.6"/>
<line x1="1561.9" y1="2343.7" x2="1578.8" y2="2343.7" stroke="#000" stroke-width="1.6"/>
<rect x="1553.1" y="2248.4" width="34.5" height="47.2" fill="#000" rx="1.5"/>
<line x1="1553.1" y1="2274.4" x2="1587.6" y2="2274.4" stroke="#fff" stroke-width="1.6"/>
<line x1="1613.5" y1="2173" x2="1613.5" y2="2244.8" stroke="#1b00ff" stroke-width="1.6"/>
<line x1="1613.5" y1="2289" x2="1613.5" y2="2334" stroke="#1b00ff" stroke-width="1.6"/>
<line x1="1605.1" y1="2173" x2="1621.9" y2="2173" stroke="#1b00ff" stroke-width="1.6"/>
<line x1="1605.1" y1="2334" x2="1621.9" y2="2334" stroke="#1b00ff" stroke-width="1.6"/>
<rect x="1596.1" y="2244.8" width="34.8" height="44.2" fill="#1b00ff" rx="1.5"/>
<line x1="1596.1" y1="2266.6" x2="1630.9" y2="2266.6" stroke="#fff" stroke-width="1.6"/>
<line x1="1658" y1="2186.4" x2="1658" y2="2253.8" stroke="#fc1c10" stroke-width="1.6"/>
<line x1="1658" y1="2301.4" x2="1658" y2="2336.5" stroke="#fc1c10" stroke-width="1.6"/>
<line x1="1649.6" y1="2186.4" x2="1666.4" y2="2186.4" stroke="#fc1c10" stroke-width="1.6"/>
<line x1="1649.6" y1="2336.5" x2="1666.4" y2="2336.5" stroke="#fc1c10" stroke-width="1.6"/>
<rect x="1640.3" y="2253.8" width="35.4" height="47.6" fill="#fc1c10" rx="1.5"/>
<line x1="1640.3" y1="2279.9" x2="1675.7" y2="2279.9" stroke="#fff" stroke-width="1.6"/>
<line x1="1727.3" y1="2290.8" x2="1727.3" y2="2321" stroke="#000" stroke-width="1.6"/>
<line x1="1727.3" y1="2334" x2="1727.3" y2="2364.9" stroke="#000" stroke-width="1.6"/>
<line x1="1718.9" y1="2290.8" x2="1735.7" y2="2290.8" stroke="#000" stroke-width="1.6"/>
<line x1="1718.9" y1="2364.9" x2="1735.7" y2="2364.9" stroke="#000" stroke-width="1.6"/>
<rect x="1711" y="2321.8" width="32.6" height="11.4" fill="#fff" stroke="#000" stroke-width="1.6"/>
<line x1="1710.2" y1="2327.1" x2="1744.4" y2="2327.1" stroke="#000" stroke-width="1.6"/>
<line x1="1771.5" y1="2276.2" x2="1771.5" y2="2302.9" stroke="#1b00ff" stroke-width="1.6"/>
<line x1="1771.5" y1="2327.7" x2="1771.5" y2="2350.1" stroke="#1b00ff" stroke-width="1.6"/>
<line x1="1763.1" y1="2276.2" x2="1779.9" y2="2276.2" stroke="#1b00ff" stroke-width="1.6"/>
<line x1="1763.1" y1="2350.1" x2="1779.9" y2="2350.1" stroke="#1b00ff" stroke-width="1.6"/>
<rect x="1755.2" y="2303.7" width="32.6" height="23.2" fill="#fff" stroke="#1b00ff" stroke-width="1.6"/>
<line x1="1754.4" y1="2312.6" x2="1788.6" y2="2312.6" stroke="#1b00ff" stroke-width="1.6"/>
<line x1="1815.2" y1="2291.7" x2="1815.2" y2="2317.4" stroke="#fc1c10" stroke-width="1.6"/>
<line x1="1815.2" y1="2336.8" x2="1815.2" y2="2367" stroke="#fc1c10" stroke-width="1.6"/>
<line x1="1806.8" y1="2291.7" x2="1823.7" y2="2291.7" stroke="#fc1c10" stroke-width="1.6"/>
<line x1="1806.8" y1="2367" x2="1823.7" y2="2367" stroke="#fc1c10" stroke-width="1.6"/>
<rect x="1798.8" y="2318.2" width="32.9" height="17.8" fill="#fff" stroke="#fc1c10" stroke-width="1.6"/>
<line x1="1798" y1="2329.5" x2="1832.5" y2="2329.5" stroke="#fc1c10" stroke-width="1.6"/>
<line x1="1526.5" y1="2071.1" x2="1526.5" y2="2383.9" stroke="#000" stroke-width="1.6"/>
<line x1="1517.4" y1="2383.1" x2="1861" y2="2383.1" stroke="#000" stroke-width="1.6"/>
<text x="1515.8" y="2394.4" font-size="32" text-anchor="end">0</text>
<line x1="1517.4" y1="2305.3" x2="1526.5" y2="2305.3" stroke="#000" stroke-width="1.6"/>
<text x="1515.8" y="2316.6" font-size="32" text-anchor="end">0.05</text>
<line x1="1517.4" y1="2227.5" x2="1526.5" y2="2227.5" stroke="#000" stroke-width="1.6"/>
<text x="1515.8" y="2238.8" font-size="32" text-anchor="end">0.10</text>
<line x1="1517.4" y1="2149.7" x2="1526.5" y2="2149.7" stroke="#000" stroke-width="1.6"/>
<text x="1515.8" y="2161" font-size="32" text-anchor="end">0.15</text>
<line x1="1517.4" y1="2071.9" x2="1526.5" y2="2071.9" stroke="#000" stroke-width="1.6"/>
<text x="1515.8" y="2083.2" font-size="32" text-anchor="end">0.02</text>
<text transform="translate(1434.2 2214) rotate(-90)" font-size="30" text-anchor="middle">Tumor sphere size (mm<tspan font-size="18" dy="-11">3</tspan><tspan dy="11">)</tspan></text>
<line x1="1567.4" y1="2045.9" x2="1728.1" y2="2045.9" stroke="#000" stroke-width="1.6"/>
<text x="1647" y="2043.5" font-size="30" text-anchor="middle">****</text>
<line x1="1567.4" y1="2079.5" x2="1660" y2="2079.5" stroke="#000" stroke-width="1.6"/>
<text x="1613.8" y="2070.1" font-size="31" text-anchor="middle">n.s.</text>
<line x1="1567.4" y1="2117.3" x2="1610.6" y2="2117.3" stroke="#000" stroke-width="1.6"/>
<text x="1588" y="2108" font-size="31" text-anchor="middle">n.s.</text>
<line x1="1728.7" y1="2079.5" x2="1821.3" y2="2079.5" stroke="#000" stroke-width="1.6"/>
<text x="1774.8" y="2070.1" font-size="31" text-anchor="middle">n.s.</text>
<line x1="1728.7" y1="2118" x2="1772" y2="2118" stroke="#000" stroke-width="1.6"/>
<text x="1750.5" y="2116" font-size="30" text-anchor="middle">*</text>
<text transform="translate(1583.6 2420.3) rotate(-45)" font-size="32" text-anchor="end">SP</text>
<text transform="translate(1628.5 2417.7) rotate(-45)" font-size="32" text-anchor="end">DKK1</text>
<text transform="translate(1673.8 2416.8) rotate(-45)" font-size="32" text-anchor="end"><tspan class="sy">Δ</tspan>CRD1</text>
<text transform="translate(1740.7 2420.3) rotate(-45)" font-size="32" text-anchor="end">SP</text>
<text transform="translate(1785.8 2417.7) rotate(-45)" font-size="32" text-anchor="end">DKK1</text>
<text transform="translate(1831.2 2416.8) rotate(-45)" font-size="32" text-anchor="end"><tspan class="sy">Δ</tspan>CRD1</text>
</svg>
</body></html>
